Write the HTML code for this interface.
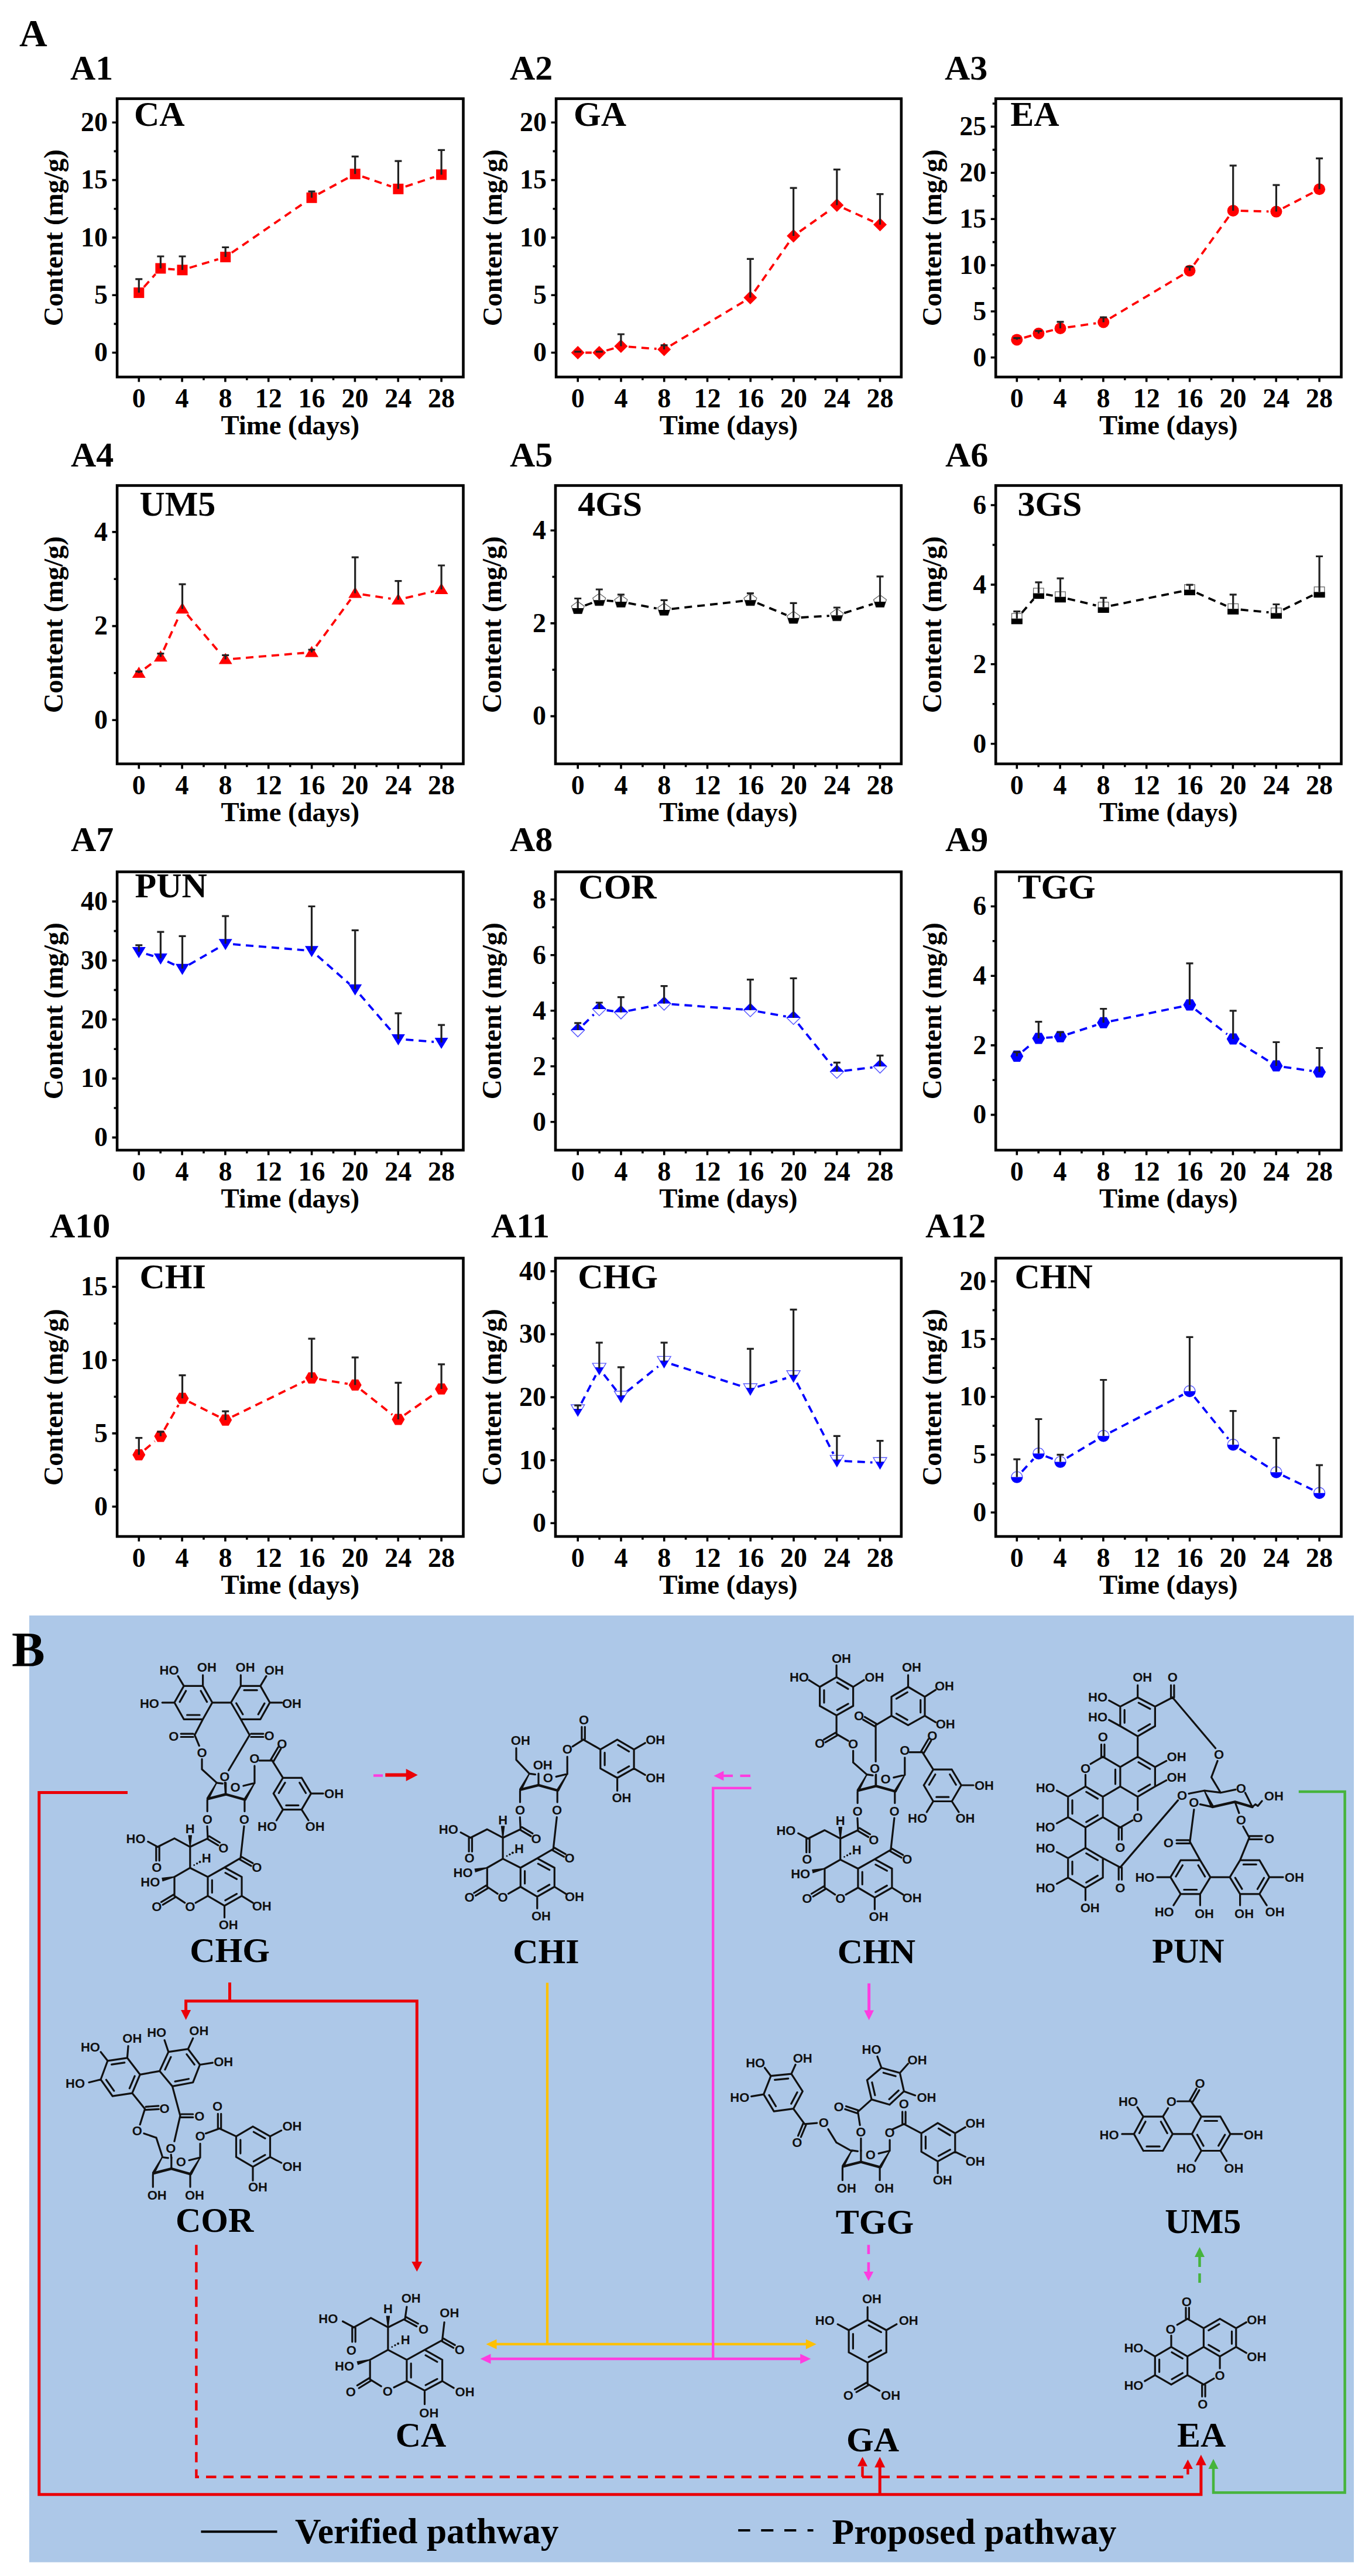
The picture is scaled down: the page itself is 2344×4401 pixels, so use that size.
<!DOCTYPE html>
<html><head><meta charset="utf-8"><title>Figure</title>
<style>
html,body{margin:0;padding:0;background:#fff}
svg{display:block}
text{font-family:"Liberation Serif",serif;font-weight:bold;fill:#000}
.pl{font-size:60px}.tt{font-size:60px}.tk{font-size:46px}.al{font-size:46.7px}
.big{font-size:66px}.bigb{font-size:85px}
.at{font-family:"Liberation Sans",sans-serif;font-weight:bold;font-size:22px;fill:#111}
.cn{font-size:60px}
.lg{font-size:61.5px}
</style></head><body>
<svg width="2344" height="4401" viewBox="0 0 2344 4401">
<rect width="2344" height="4401" fill="#fff"/>
<text class="big" x="33" y="79">A</text>
<g>
<text class="pl" x="120.0" y="136.0">A1</text>
<text class="tt" x="228.9" y="214.8">CA</text>
<rect x="200.1" y="168.6" width="591.4" height="475.5" fill="none" stroke="#000" stroke-width="4.6"/>
<text class="tk" text-anchor="middle" x="237.3" y="696.1">0</text>
<text class="tk" text-anchor="middle" x="311.1" y="696.1">4</text>
<text class="tk" text-anchor="middle" x="384.9" y="696.1">8</text>
<text class="tk" text-anchor="middle" x="458.7" y="696.1">12</text>
<text class="tk" text-anchor="middle" x="532.6" y="696.1">16</text>
<text class="tk" text-anchor="middle" x="606.4" y="696.1">20</text>
<text class="tk" text-anchor="middle" x="680.2" y="696.1">24</text>
<text class="tk" text-anchor="middle" x="754.1" y="696.1">28</text>
<text class="tk" text-anchor="end" x="184.1" y="224.0">20</text>
<text class="tk" text-anchor="end" x="184.1" y="322.4">15</text>
<text class="tk" text-anchor="end" x="184.1" y="420.7">10</text>
<text class="tk" text-anchor="end" x="184.1" y="519.0">5</text>
<text class="tk" text-anchor="end" x="184.1" y="617.3">0</text>
<path d="M237.3,646.1v6.5M274.2,646.1v3.5M311.1,646.1v6.5M348.0,646.1v3.5M384.9,646.1v6.5M421.8,646.1v3.5M458.7,646.1v6.5M495.7,646.1v3.5M532.6,646.1v6.5M569.5,646.1v3.5M606.4,646.1v6.5M643.3,646.1v3.5M680.2,646.1v6.5M717.2,646.1v3.5M754.1,646.1v6.5M198.1,209.2h-6.5M198.1,307.6h-6.5M198.1,405.9h-6.5M198.1,504.2h-6.5M198.1,602.5h-6.5M198.1,258.4h-3.5M198.1,356.7h-3.5M198.1,455.0h-3.5M198.1,553.4h-3.5" stroke="#000" stroke-width="3.6" fill="none"/>
<text class="al" text-anchor="middle" x="495.8" y="742.1">Time (days)</text>
<text class="al" text-anchor="middle" transform="translate(107.1,406.3) rotate(-90)">Content (mg/g)</text>
<path d="M245.9,490.4L265.7,468.2M287.3,459.5L298.5,460.3M323.9,457.5L372.7,442.9M395.9,431.8L521.8,345.1M543.9,331.5L595.3,303.5M619.0,301.6L668.1,318.5M692.7,318.7L741.7,302.5" fill="none" stroke="#ff0000" stroke-width="3.8" stroke-dasharray="13,9"/>
<rect x="228.3" y="491.1" width="18" height="18" fill="#ff0000"/>
<rect x="265.4" y="449.5" width="18" height="18" fill="#ff0000"/>
<rect x="302.5" y="452.3" width="18" height="18" fill="#ff0000"/>
<rect x="376.2" y="430.1" width="18" height="18" fill="#ff0000"/>
<rect x="523.5" y="328.8" width="18" height="18" fill="#ff0000"/>
<rect x="597.7" y="288.3" width="18" height="18" fill="#ff0000"/>
<rect x="671.4" y="313.8" width="18" height="18" fill="#ff0000"/>
<rect x="745.1" y="289.4" width="18" height="18" fill="#ff0000"/>
<path d="M237.3,500.1V476.8M231.3,476.8h12M274.4,458.5V438.0M268.4,438.0h12M311.5,461.3V438.0M305.5,438.0h12M385.2,439.1V422.5M379.2,422.5h12M532.5,337.8V327.2M526.5,327.2h12M606.7,297.3V267.4M600.7,267.4h12M680.4,322.8V275.2M674.4,275.2h12M754.1,298.4V256.3M748.1,256.3h12" stroke="#222" stroke-width="3.2" fill="none"/>
</g>
<g>
<text class="pl" x="871.0" y="136.0">A2</text>
<text class="tt" x="980.0" y="214.8">GA</text>
<rect x="950.1" y="168.6" width="589.7" height="475.5" fill="none" stroke="#000" stroke-width="4.6"/>
<text class="tk" text-anchor="middle" x="987.2" y="696.1">0</text>
<text class="tk" text-anchor="middle" x="1061.0" y="696.1">4</text>
<text class="tk" text-anchor="middle" x="1134.7" y="696.1">8</text>
<text class="tk" text-anchor="middle" x="1208.5" y="696.1">12</text>
<text class="tk" text-anchor="middle" x="1282.2" y="696.1">16</text>
<text class="tk" text-anchor="middle" x="1356.0" y="696.1">20</text>
<text class="tk" text-anchor="middle" x="1429.7" y="696.1">24</text>
<text class="tk" text-anchor="middle" x="1503.5" y="696.1">28</text>
<text class="tk" text-anchor="end" x="934.1" y="224.0">20</text>
<text class="tk" text-anchor="end" x="934.1" y="322.4">15</text>
<text class="tk" text-anchor="end" x="934.1" y="420.7">10</text>
<text class="tk" text-anchor="end" x="934.1" y="519.0">5</text>
<text class="tk" text-anchor="end" x="934.1" y="617.3">0</text>
<path d="M987.2,646.1v6.5M1024.1,646.1v3.5M1061.0,646.1v6.5M1097.9,646.1v3.5M1134.7,646.1v6.5M1171.6,646.1v3.5M1208.5,646.1v6.5M1245.4,646.1v3.5M1282.2,646.1v6.5M1319.1,646.1v3.5M1356.0,646.1v6.5M1392.9,646.1v3.5M1429.7,646.1v6.5M1466.6,646.1v3.5M1503.5,646.1v6.5M948.1,209.2h-6.5M948.1,307.6h-6.5M948.1,405.9h-6.5M948.1,504.2h-6.5M948.1,602.5h-6.5M948.1,258.4h-3.5M948.1,356.7h-3.5M948.1,455.0h-3.5M948.1,553.4h-3.5" stroke="#000" stroke-width="3.6" fill="none"/>
<text class="al" text-anchor="middle" x="1244.9" y="742.1">Time (days)</text>
<text class="al" text-anchor="middle" transform="translate(857.1,406.3) rotate(-90)">Content (mg/g)</text>
<path d="M1000.2,602.5L1010.8,602.5M1036.2,598.8L1048.4,595.2M1073.9,592.4L1121.6,596.0M1145.7,590.3L1270.8,515.1M1289.4,497.7L1348.1,413.8M1366.2,395.6L1419.2,358.0M1441.7,355.8L1491.6,378.4" fill="none" stroke="#ff0000" stroke-width="3.8" stroke-dasharray="13,9"/>
<polygon points="987.2,591.0 998.7,602.5 987.2,614.0 975.7,602.5" fill="#ff0000"/>
<polygon points="1023.8,591.0 1035.3,602.5 1023.8,614.0 1012.3,602.5" fill="#ff0000"/>
<polygon points="1060.9,579.9 1072.4,591.4 1060.9,602.9 1049.4,591.4" fill="#ff0000"/>
<polygon points="1134.6,585.5 1146.1,597.0 1134.6,608.5 1123.1,597.0" fill="#ff0000"/>
<polygon points="1281.9,496.9 1293.4,508.4 1281.9,519.9 1270.4,508.4" fill="#ff0000"/>
<polygon points="1355.6,391.6 1367.1,403.1 1355.6,414.6 1344.1,403.1" fill="#ff0000"/>
<polygon points="1429.8,339.0 1441.3,350.5 1429.8,362.0 1418.3,350.5" fill="#ff0000"/>
<polygon points="1503.5,372.2 1515.0,383.7 1503.5,395.2 1492.0,383.7" fill="#ff0000"/>
<path d="M987.2,602.5V600.9M981.2,600.9h12M1023.8,602.5V600.9M1017.8,600.9h12M1060.9,591.4V571.0M1054.9,571.0h12M1134.6,597.0V589.8M1128.6,589.8h12M1281.9,508.4V442.4M1275.9,442.4h12M1355.6,403.1V321.1M1349.6,321.1h12M1429.8,350.5V289.6M1423.8,289.6h12M1503.5,383.7V331.7M1497.5,331.7h12" stroke="#222" stroke-width="3.2" fill="none"/>
</g>
<g>
<text class="pl" x="1614.0" y="136.0">A3</text>
<text class="tt" x="1726.2" y="214.8">EA</text>
<rect x="1701.2" y="168.6" width="590.3" height="475.5" fill="none" stroke="#000" stroke-width="4.6"/>
<text class="tk" text-anchor="middle" x="1737.3" y="696.1">0</text>
<text class="tk" text-anchor="middle" x="1811.1" y="696.1">4</text>
<text class="tk" text-anchor="middle" x="1884.9" y="696.1">8</text>
<text class="tk" text-anchor="middle" x="1958.7" y="696.1">12</text>
<text class="tk" text-anchor="middle" x="2032.6" y="696.1">16</text>
<text class="tk" text-anchor="middle" x="2106.4" y="696.1">20</text>
<text class="tk" text-anchor="middle" x="2180.2" y="696.1">24</text>
<text class="tk" text-anchor="middle" x="2254.1" y="696.1">28</text>
<text class="tk" text-anchor="end" x="1685.2" y="231.2">25</text>
<text class="tk" text-anchor="end" x="1685.2" y="310.1">20</text>
<text class="tk" text-anchor="end" x="1685.2" y="389.0">15</text>
<text class="tk" text-anchor="end" x="1685.2" y="467.9">10</text>
<text class="tk" text-anchor="end" x="1685.2" y="546.8">5</text>
<text class="tk" text-anchor="end" x="1685.2" y="625.6">0</text>
<path d="M1737.3,646.1v6.5M1774.2,646.1v3.5M1811.1,646.1v6.5M1848.0,646.1v3.5M1884.9,646.1v6.5M1921.8,646.1v3.5M1958.7,646.1v6.5M1995.7,646.1v3.5M2032.6,646.1v6.5M2069.5,646.1v3.5M2106.4,646.1v6.5M2143.3,646.1v3.5M2180.2,646.1v6.5M2217.2,646.1v3.5M2254.1,646.1v6.5M1699.2,216.4h-6.5M1699.2,295.3h-6.5M1699.2,374.2h-6.5M1699.2,453.1h-6.5M1699.2,532.0h-6.5M1699.2,610.8h-6.5M1699.2,177.0h-3.5M1699.2,255.9h-3.5M1699.2,334.8h-3.5M1699.2,413.6h-3.5M1699.2,492.5h-3.5M1699.2,571.4h-3.5" stroke="#000" stroke-width="3.6" fill="none"/>
<text class="al" text-anchor="middle" x="1996.3" y="742.1">Time (days)</text>
<text class="al" text-anchor="middle" transform="translate(1608.2,406.3) rotate(-90)">Content (mg/g)</text>
<path d="M1749.8,576.8L1761.9,573.4M1787.0,566.8L1798.8,564.0M1824.4,559.1L1872.3,552.3M1896.3,543.8L2021.3,469.1M2040.1,451.9L2099.1,370.4M2119.7,360.2L2167.4,361.3M2191.9,355.6L2242.5,329.3" fill="none" stroke="#ff0000" stroke-width="3.8" stroke-dasharray="13,9"/>
<circle cx="1737.3" cy="580.4" r="10" fill="#ff0000"/>
<circle cx="1774.4" cy="569.8" r="10" fill="#ff0000"/>
<circle cx="1811.5" cy="561.0" r="10" fill="#ff0000"/>
<circle cx="1885.2" cy="550.5" r="10" fill="#ff0000"/>
<circle cx="2032.5" cy="462.4" r="10" fill="#ff0000"/>
<circle cx="2106.7" cy="359.9" r="10" fill="#ff0000"/>
<circle cx="2180.4" cy="361.6" r="10" fill="#ff0000"/>
<circle cx="2254.1" cy="323.3" r="10" fill="#ff0000"/>
<path d="M1737.3,580.4V577.6M1731.3,577.6h12M1774.4,569.8V565.4M1768.4,565.4h12M1811.5,561.0V549.9M1805.5,549.9h12M1885.2,550.5V542.1M1879.2,542.1h12M2032.5,462.4V455.7M2026.5,455.7h12M2106.7,359.9V282.9M2100.7,282.9h12M2180.4,361.6V316.1M2174.4,316.1h12M2254.1,323.3V270.7M2248.1,270.7h12" stroke="#222" stroke-width="3.2" fill="none"/>
</g>
<g>
<text class="pl" x="121.0" y="797.0">A4</text>
<text class="tt" x="238.4" y="881.3">UM5</text>
<rect x="200.1" y="829.5" width="591.4" height="475.5" fill="none" stroke="#000" stroke-width="4.6"/>
<text class="tk" text-anchor="middle" x="237.3" y="1357.0">0</text>
<text class="tk" text-anchor="middle" x="311.1" y="1357.0">4</text>
<text class="tk" text-anchor="middle" x="384.9" y="1357.0">8</text>
<text class="tk" text-anchor="middle" x="458.7" y="1357.0">12</text>
<text class="tk" text-anchor="middle" x="532.6" y="1357.0">16</text>
<text class="tk" text-anchor="middle" x="606.4" y="1357.0">20</text>
<text class="tk" text-anchor="middle" x="680.2" y="1357.0">24</text>
<text class="tk" text-anchor="middle" x="754.1" y="1357.0">28</text>
<text class="tk" text-anchor="end" x="184.1" y="923.7">4</text>
<text class="tk" text-anchor="end" x="184.1" y="1084.4">2</text>
<text class="tk" text-anchor="end" x="184.1" y="1245.0">0</text>
<path d="M237.3,1307.0v6.5M274.2,1307.0v3.5M311.1,1307.0v6.5M348.0,1307.0v3.5M384.9,1307.0v6.5M421.8,1307.0v3.5M458.7,1307.0v6.5M495.7,1307.0v3.5M532.6,1307.0v6.5M569.5,1307.0v3.5M606.4,1307.0v6.5M643.3,1307.0v3.5M680.2,1307.0v6.5M717.2,1307.0v3.5M754.1,1307.0v6.5M198.1,908.9h-6.5M198.1,1069.6h-6.5M198.1,1230.2h-6.5M198.1,989.3h-3.5M198.1,1149.9h-3.5" stroke="#000" stroke-width="3.6" fill="none"/>
<text class="al" text-anchor="middle" x="495.8" y="1403.0">Time (days)</text>
<text class="al" text-anchor="middle" transform="translate(107.1,1067.3) rotate(-90)">Content (mg/g)</text>
<path d="M247.7,1142.1L264.0,1130.0M279.7,1110.4L306.1,1052.1M319.9,1050.1L376.7,1116.7M398.1,1125.6L519.5,1115.5M540.2,1104.0L599.0,1024.1M619.6,1015.6L667.5,1022.8M693.0,1021.7L741.4,1010.0" fill="none" stroke="#ff0000" stroke-width="3.8" stroke-dasharray="13,9"/>
<polygon points="237.3,1138.9 248.8,1157.9 225.8,1157.9" fill="#ff0000"/>
<polygon points="274.4,1111.2 285.9,1130.2 262.9,1130.2" fill="#ff0000"/>
<polygon points="311.5,1029.2 323.0,1048.2 300.0,1048.2" fill="#ff0000"/>
<polygon points="385.2,1115.6 396.7,1134.6 373.7,1134.6" fill="#ff0000"/>
<polygon points="532.5,1103.5 544.0,1122.5 521.0,1122.5" fill="#ff0000"/>
<polygon points="606.7,1002.6 618.2,1021.6 595.2,1021.6" fill="#ff0000"/>
<polygon points="680.4,1013.7 691.9,1032.7 668.9,1032.7" fill="#ff0000"/>
<polygon points="754.1,996.0 765.6,1015.0 742.6,1015.0" fill="#ff0000"/>
<path d="M237.3,1149.9V1147.1M231.3,1147.1h12M274.4,1122.2V1116.7M268.4,1116.7h12M311.5,1040.2V998.1M305.5,998.1h12M385.2,1126.6V1119.4M379.2,1119.4h12M532.5,1114.5V1110.0M526.5,1110.0h12M606.7,1013.6V952.2M600.7,952.2h12M680.4,1024.7V992.6M674.4,992.6h12M754.1,1007.0V966.0M748.1,966.0h12" stroke="#222" stroke-width="3.2" fill="none"/>
</g>
<g>
<text class="pl" x="871.0" y="797.0">A5</text>
<text class="tt" x="987.2" y="881.3">4GS</text>
<rect x="949.0" y="829.5" width="590.8" height="475.5" fill="none" stroke="#000" stroke-width="4.6"/>
<text class="tk" text-anchor="middle" x="987.2" y="1357.0">0</text>
<text class="tk" text-anchor="middle" x="1061.0" y="1357.0">4</text>
<text class="tk" text-anchor="middle" x="1134.7" y="1357.0">8</text>
<text class="tk" text-anchor="middle" x="1208.5" y="1357.0">12</text>
<text class="tk" text-anchor="middle" x="1282.2" y="1357.0">16</text>
<text class="tk" text-anchor="middle" x="1356.0" y="1357.0">20</text>
<text class="tk" text-anchor="middle" x="1429.7" y="1357.0">24</text>
<text class="tk" text-anchor="middle" x="1503.5" y="1357.0">28</text>
<text class="tk" text-anchor="end" x="933.0" y="921.0">4</text>
<text class="tk" text-anchor="end" x="933.0" y="1079.7">2</text>
<text class="tk" text-anchor="end" x="933.0" y="1238.4">0</text>
<path d="M987.2,1307.0v6.5M1024.1,1307.0v3.5M1061.0,1307.0v6.5M1097.9,1307.0v3.5M1134.7,1307.0v6.5M1171.6,1307.0v3.5M1208.5,1307.0v6.5M1245.4,1307.0v3.5M1282.2,1307.0v6.5M1319.1,1307.0v3.5M1356.0,1307.0v6.5M1392.9,1307.0v3.5M1429.7,1307.0v6.5M1466.6,1307.0v3.5M1503.5,1307.0v6.5M947.0,906.2h-6.5M947.0,1064.9h-6.5M947.0,1223.6h-6.5M947.0,985.5h-3.5M947.0,1144.2h-3.5" stroke="#000" stroke-width="3.6" fill="none"/>
<text class="al" text-anchor="middle" x="1244.4" y="1403.0">Time (days)</text>
<text class="al" text-anchor="middle" transform="translate(856.0,1067.3) rotate(-90)">Content (mg/g)</text>
<path d="M999.4,1034.5L1011.6,1029.9M1036.7,1026.2L1047.9,1027.1M1073.7,1030.4L1121.8,1039.5M1147.5,1040.4L1269.0,1026.7M1293.9,1030.2L1343.6,1050.8M1368.6,1055.0L1416.8,1052.1M1442.2,1047.4L1491.1,1032.0" fill="none" stroke="#000000" stroke-width="3.8" stroke-dasharray="13,9"/>
<polygon points="987.2,1027.6 998.2,1035.6 994.0,1048.4 980.5,1048.4 976.3,1035.6" fill="#fff" stroke="#666" stroke-width="1.3"/><clipPath id="c987_1039"><rect x="972.2" y="1039.1" width="30" height="15"/></clipPath><polygon points="987.2,1027.6 998.2,1035.6 994.0,1048.4 980.5,1048.4 976.3,1035.6" fill="#000000" clip-path="url(#c987_1039)"/>
<polygon points="1023.8,1013.8 1034.7,1021.7 1030.5,1034.6 1017.0,1034.6 1012.8,1021.7" fill="#fff" stroke="#666" stroke-width="1.3"/><clipPath id="c1023_1025"><rect x="1008.8" y="1025.3" width="30" height="15"/></clipPath><polygon points="1023.8,1013.8 1034.7,1021.7 1030.5,1034.6 1017.0,1034.6 1012.8,1021.7" fill="#000000" clip-path="url(#c1023_1025)"/>
<polygon points="1060.9,1016.5 1071.8,1024.5 1067.7,1037.3 1054.1,1037.3 1050.0,1024.5" fill="#fff" stroke="#666" stroke-width="1.3"/><clipPath id="c1060_1028"><rect x="1045.9" y="1028.0" width="30" height="15"/></clipPath><polygon points="1060.9,1016.5 1071.8,1024.5 1067.7,1037.3 1054.1,1037.3 1050.0,1024.5" fill="#000000" clip-path="url(#c1060_1028)"/>
<polygon points="1134.6,1030.4 1145.5,1038.3 1141.3,1051.2 1127.8,1051.2 1123.6,1038.3" fill="#fff" stroke="#666" stroke-width="1.3"/><clipPath id="c1134_1041"><rect x="1119.6" y="1041.9" width="30" height="15"/></clipPath><polygon points="1134.6,1030.4 1145.5,1038.3 1141.3,1051.2 1127.8,1051.2 1123.6,1038.3" fill="#000000" clip-path="url(#c1134_1041)"/>
<polygon points="1281.9,1013.8 1292.9,1021.7 1288.7,1034.6 1275.2,1034.6 1271.0,1021.7" fill="#fff" stroke="#666" stroke-width="1.3"/><clipPath id="c1281_1025"><rect x="1266.9" y="1025.3" width="30" height="15"/></clipPath><polygon points="1281.9,1013.8 1292.9,1021.7 1288.7,1034.6 1275.2,1034.6 1271.0,1021.7" fill="#000000" clip-path="url(#c1281_1025)"/>
<polygon points="1355.6,1044.2 1366.5,1052.2 1362.3,1065.0 1348.8,1065.0 1344.6,1052.2" fill="#fff" stroke="#666" stroke-width="1.3"/><clipPath id="c1355_1055"><rect x="1340.6" y="1055.7" width="30" height="15"/></clipPath><polygon points="1355.6,1044.2 1366.5,1052.2 1362.3,1065.0 1348.8,1065.0 1344.6,1052.2" fill="#000000" clip-path="url(#c1355_1055)"/>
<polygon points="1429.8,1039.8 1440.7,1047.8 1436.6,1060.6 1423.1,1060.6 1418.9,1047.8" fill="#fff" stroke="#666" stroke-width="1.3"/><clipPath id="c1429_1051"><rect x="1414.8" y="1051.3" width="30" height="15"/></clipPath><polygon points="1429.8,1039.8 1440.7,1047.8 1436.6,1060.6 1423.1,1060.6 1418.9,1047.8" fill="#000000" clip-path="url(#c1429_1051)"/>
<polygon points="1503.5,1016.5 1514.4,1024.5 1510.2,1037.3 1496.7,1037.3 1492.5,1024.5" fill="#fff" stroke="#666" stroke-width="1.3"/><clipPath id="c1503_1028"><rect x="1488.5" y="1028.0" width="30" height="15"/></clipPath><polygon points="1503.5,1016.5 1514.4,1024.5 1510.2,1037.3 1496.7,1037.3 1492.5,1024.5" fill="#000000" clip-path="url(#c1503_1028)"/>
<path d="M987.2,1039.1V1022.5M981.2,1022.5h12M1023.8,1025.3V1007.0M1017.8,1007.0h12M1060.9,1028.0V1015.9M1054.9,1015.9h12M1134.6,1041.9V1025.3M1128.6,1025.3h12M1281.9,1025.3V1013.6M1275.9,1013.6h12M1355.6,1055.7V1030.3M1349.6,1030.3h12M1429.8,1051.3V1038.0M1423.8,1038.0h12M1503.5,1028.0V984.8M1497.5,984.8h12" stroke="#222" stroke-width="3.2" fill="none"/>
</g>
<g>
<text class="pl" x="1615.0" y="797.0">A6</text>
<text class="tt" x="1738.4" y="881.3">3GS</text>
<rect x="1701.2" y="829.5" width="590.3" height="475.5" fill="none" stroke="#000" stroke-width="4.6"/>
<text class="tk" text-anchor="middle" x="1737.3" y="1357.0">0</text>
<text class="tk" text-anchor="middle" x="1811.1" y="1357.0">4</text>
<text class="tk" text-anchor="middle" x="1884.9" y="1357.0">8</text>
<text class="tk" text-anchor="middle" x="1958.7" y="1357.0">12</text>
<text class="tk" text-anchor="middle" x="2032.6" y="1357.0">16</text>
<text class="tk" text-anchor="middle" x="2106.4" y="1357.0">20</text>
<text class="tk" text-anchor="middle" x="2180.2" y="1357.0">24</text>
<text class="tk" text-anchor="middle" x="2254.1" y="1357.0">28</text>
<text class="tk" text-anchor="end" x="1685.2" y="877.8">6</text>
<text class="tk" text-anchor="end" x="1685.2" y="1013.7">4</text>
<text class="tk" text-anchor="end" x="1685.2" y="1149.6">2</text>
<text class="tk" text-anchor="end" x="1685.2" y="1285.5">0</text>
<path d="M1737.3,1307.0v6.5M1774.2,1307.0v3.5M1811.1,1307.0v6.5M1848.0,1307.0v3.5M1884.9,1307.0v6.5M1921.8,1307.0v3.5M1958.7,1307.0v6.5M1995.7,1307.0v3.5M2032.6,1307.0v6.5M2069.5,1307.0v3.5M2106.4,1307.0v6.5M2143.3,1307.0v3.5M2180.2,1307.0v6.5M2217.2,1307.0v3.5M2254.1,1307.0v6.5M1699.2,863.0h-6.5M1699.2,998.9h-6.5M1699.2,1134.8h-6.5M1699.2,1270.7h-6.5M1699.2,930.9h-3.5M1699.2,1066.8h-3.5M1699.2,1202.7h-3.5" stroke="#000" stroke-width="3.6" fill="none"/>
<text class="al" text-anchor="middle" x="1996.3" y="1403.0">Time (days)</text>
<text class="al" text-anchor="middle" transform="translate(1608.2,1067.3) rotate(-90)">Content (mg/g)</text>
<path d="M1745.7,1047.0L1765.9,1023.5M1787.2,1015.7L1798.7,1017.6M1824.1,1022.8L1872.5,1034.4M1897.9,1034.9L2019.8,1010.1M2044.4,1012.8L2094.8,1035.0M2119.7,1041.5L2167.5,1046.2M2192.1,1041.7L2242.4,1017.1" fill="none" stroke="#000000" stroke-width="3.8" stroke-dasharray="13,9"/>
<rect x="1728.5" y="1048.1" width="17.5" height="17.5" fill="#fff" stroke="#666" stroke-width="1.3"/><rect x="1727.8" y="1056.8" width="19" height="9.5" fill="#000000"/>
<rect x="1765.6" y="1004.9" width="17.5" height="17.5" fill="#fff" stroke="#666" stroke-width="1.3"/><rect x="1764.9" y="1013.6" width="19" height="9.5" fill="#000000"/>
<rect x="1802.7" y="1011.0" width="17.5" height="17.5" fill="#fff" stroke="#666" stroke-width="1.3"/><rect x="1802.0" y="1019.7" width="19" height="9.5" fill="#000000"/>
<rect x="1876.4" y="1028.7" width="17.5" height="17.5" fill="#fff" stroke="#666" stroke-width="1.3"/><rect x="1875.7" y="1037.5" width="19" height="9.5" fill="#000000"/>
<rect x="2023.7" y="998.8" width="17.5" height="17.5" fill="#fff" stroke="#666" stroke-width="1.3"/><rect x="2023.0" y="1007.5" width="19" height="9.5" fill="#000000"/>
<rect x="2098.0" y="1031.5" width="17.5" height="17.5" fill="#fff" stroke="#666" stroke-width="1.3"/><rect x="2097.2" y="1040.2" width="19" height="9.5" fill="#000000"/>
<rect x="2171.6" y="1038.7" width="17.5" height="17.5" fill="#fff" stroke="#666" stroke-width="1.3"/><rect x="2170.9" y="1047.4" width="19" height="9.5" fill="#000000"/>
<rect x="2245.3" y="1002.7" width="17.5" height="17.5" fill="#fff" stroke="#666" stroke-width="1.3"/><rect x="2244.6" y="1011.4" width="19" height="9.5" fill="#000000"/>
<path d="M1737.3,1056.8V1044.7M1731.3,1044.7h12M1774.4,1013.6V994.8M1768.4,994.8h12M1811.5,1019.7V988.2M1805.5,988.2h12M1885.2,1037.5V1021.4M1879.2,1021.4h12M2032.5,1007.5V999.2M2026.5,999.2h12M2106.7,1040.2V1015.9M2100.7,1015.9h12M2180.4,1047.4V1032.5M2174.4,1032.5h12M2254.1,1011.4V950.5M2248.1,950.5h12" stroke="#222" stroke-width="3.2" fill="none"/>
</g>
<g>
<text class="pl" x="121.0" y="1454.0">A7</text>
<text class="tt" x="230.6" y="1532.9">PUN</text>
<rect x="200.1" y="1489.5" width="591.4" height="475.5" fill="none" stroke="#000" stroke-width="4.6"/>
<text class="tk" text-anchor="middle" x="237.3" y="2017.0">0</text>
<text class="tk" text-anchor="middle" x="311.1" y="2017.0">4</text>
<text class="tk" text-anchor="middle" x="384.9" y="2017.0">8</text>
<text class="tk" text-anchor="middle" x="458.7" y="2017.0">12</text>
<text class="tk" text-anchor="middle" x="532.6" y="2017.0">16</text>
<text class="tk" text-anchor="middle" x="606.4" y="2017.0">20</text>
<text class="tk" text-anchor="middle" x="680.2" y="2017.0">24</text>
<text class="tk" text-anchor="middle" x="754.1" y="2017.0">28</text>
<text class="tk" text-anchor="end" x="184.1" y="1554.9">40</text>
<text class="tk" text-anchor="end" x="184.1" y="1655.8">30</text>
<text class="tk" text-anchor="end" x="184.1" y="1756.6">20</text>
<text class="tk" text-anchor="end" x="184.1" y="1857.4">10</text>
<text class="tk" text-anchor="end" x="184.1" y="1958.2">0</text>
<path d="M237.3,1967.0v6.5M274.2,1967.0v3.5M311.1,1967.0v6.5M348.0,1967.0v3.5M384.9,1967.0v6.5M421.8,1967.0v3.5M458.7,1967.0v6.5M495.7,1967.0v3.5M532.6,1967.0v6.5M569.5,1967.0v3.5M606.4,1967.0v6.5M643.3,1967.0v3.5M680.2,1967.0v6.5M717.2,1967.0v3.5M754.1,1967.0v6.5M198.1,1540.1h-6.5M198.1,1641.0h-6.5M198.1,1741.8h-6.5M198.1,1842.6h-6.5M198.1,1943.4h-6.5M198.1,1590.6h-3.5M198.1,1691.4h-3.5M198.1,1792.2h-3.5M198.1,1893.0h-3.5" stroke="#000" stroke-width="3.6" fill="none"/>
<text class="al" text-anchor="middle" x="495.8" y="2063.0">Time (days)</text>
<text class="al" text-anchor="middle" transform="translate(107.1,1727.3) rotate(-90)">Content (mg/g)</text>
<path d="M249.7,1629.7L261.9,1633.4M286.1,1642.7L299.8,1649.2M322.7,1648.3L373.9,1618.7M398.1,1613.2L519.5,1623.3M542.3,1632.9L597.0,1681.1M615.2,1699.5L671.9,1765.2M693.4,1776.1L741.1,1780.0" fill="none" stroke="#0000ff" stroke-width="3.8" stroke-dasharray="13,9"/>
<polygon points="237.3,1637.0 248.8,1618.0 225.8,1618.0" fill="#0000ff"/>
<polygon points="274.4,1648.1 285.9,1629.1 262.9,1629.1" fill="#0000ff"/>
<polygon points="311.5,1665.8 323.0,1646.8 300.0,1646.8" fill="#0000ff"/>
<polygon points="385.2,1623.2 396.7,1604.2 373.7,1604.2" fill="#0000ff"/>
<polygon points="532.5,1635.3 544.0,1616.3 521.0,1616.3" fill="#0000ff"/>
<polygon points="606.7,1700.7 618.2,1681.7 595.2,1681.7" fill="#0000ff"/>
<polygon points="680.4,1786.0 691.9,1767.0 668.9,1767.0" fill="#0000ff"/>
<polygon points="754.1,1792.1 765.6,1773.1 742.6,1773.1" fill="#0000ff"/>
<path d="M237.3,1626.0V1614.9M231.3,1614.9h12M274.4,1637.1V1592.2M268.4,1592.2h12M311.5,1654.8V1599.4M305.5,1599.4h12M385.2,1612.2V1565.1M379.2,1565.1h12M532.5,1624.3V1548.5M526.5,1548.5h12M606.7,1689.7V1589.4M600.7,1589.4h12M680.4,1775.0V1731.2M674.4,1731.2h12M754.1,1781.1V1751.2M748.1,1751.2h12" stroke="#222" stroke-width="3.2" fill="none"/>
</g>
<g>
<text class="pl" x="871.0" y="1454.0">A8</text>
<text class="tt" x="988.3" y="1534.6">COR</text>
<rect x="949.0" y="1489.5" width="590.8" height="475.5" fill="none" stroke="#000" stroke-width="4.6"/>
<text class="tk" text-anchor="middle" x="987.2" y="2017.0">0</text>
<text class="tk" text-anchor="middle" x="1061.0" y="2017.0">4</text>
<text class="tk" text-anchor="middle" x="1134.7" y="2017.0">8</text>
<text class="tk" text-anchor="middle" x="1208.5" y="2017.0">12</text>
<text class="tk" text-anchor="middle" x="1282.2" y="2017.0">16</text>
<text class="tk" text-anchor="middle" x="1356.0" y="2017.0">20</text>
<text class="tk" text-anchor="middle" x="1429.7" y="2017.0">24</text>
<text class="tk" text-anchor="middle" x="1503.5" y="2017.0">28</text>
<text class="tk" text-anchor="end" x="933.0" y="1551.6">8</text>
<text class="tk" text-anchor="end" x="933.0" y="1646.6">6</text>
<text class="tk" text-anchor="end" x="933.0" y="1741.6">4</text>
<text class="tk" text-anchor="end" x="933.0" y="1836.6">2</text>
<text class="tk" text-anchor="end" x="933.0" y="1931.6">0</text>
<path d="M987.2,1967.0v6.5M1024.1,1967.0v3.5M1061.0,1967.0v6.5M1097.9,1967.0v3.5M1134.7,1967.0v6.5M1171.6,1967.0v3.5M1208.5,1967.0v6.5M1245.4,1967.0v3.5M1282.2,1967.0v6.5M1319.1,1967.0v3.5M1356.0,1967.0v6.5M1392.9,1967.0v3.5M1429.7,1967.0v6.5M1466.6,1967.0v3.5M1503.5,1967.0v6.5M947.0,1536.8h-6.5M947.0,1631.8h-6.5M947.0,1726.8h-6.5M947.0,1821.8h-6.5M947.0,1916.8h-6.5M947.0,1584.3h-3.5M947.0,1679.3h-3.5M947.0,1774.3h-3.5M947.0,1869.3h-3.5" stroke="#000" stroke-width="3.6" fill="none"/>
<text class="al" text-anchor="middle" x="1244.4" y="2063.0">Time (days)</text>
<text class="al" text-anchor="middle" transform="translate(856.0,1727.3) rotate(-90)">Content (mg/g)</text>
<path d="M996.5,1750.9L1014.5,1733.2M1036.6,1726.0L1048.0,1727.7M1073.6,1727.0L1121.8,1717.2M1147.5,1715.6L1269.0,1724.7M1294.7,1728.0L1342.8,1736.7M1363.8,1749.1L1421.6,1820.8M1442.7,1829.4L1490.6,1823.6" fill="none" stroke="#0000ff" stroke-width="3.8" stroke-dasharray="13,9"/>
<polygon points="987.2,1748.8 998.5,1760.1 987.2,1771.4 975.9,1760.1" fill="#fff" stroke="#5a5aff" stroke-width="1.5"/><polygon points="975.2,1760.1 987.2,1748.1 999.2,1760.1" fill="#0000ff"/>
<polygon points="1023.8,1712.7 1035.1,1724.0 1023.8,1735.3 1012.5,1724.0" fill="#fff" stroke="#5a5aff" stroke-width="1.5"/><polygon points="1011.8,1724.0 1023.8,1712.0 1035.8,1724.0" fill="#0000ff"/>
<polygon points="1060.9,1718.3 1072.2,1729.6 1060.9,1740.9 1049.6,1729.6" fill="#fff" stroke="#5a5aff" stroke-width="1.5"/><polygon points="1048.9,1729.6 1060.9,1717.6 1072.9,1729.6" fill="#0000ff"/>
<polygon points="1134.6,1703.3 1145.9,1714.6 1134.6,1725.9 1123.3,1714.6" fill="#fff" stroke="#5a5aff" stroke-width="1.5"/><polygon points="1122.6,1714.6 1134.6,1702.6 1146.6,1714.6" fill="#0000ff"/>
<polygon points="1281.9,1714.4 1293.2,1725.7 1281.9,1737.0 1270.6,1725.7" fill="#fff" stroke="#5a5aff" stroke-width="1.5"/><polygon points="1269.9,1725.7 1281.9,1713.7 1293.9,1725.7" fill="#0000ff"/>
<polygon points="1355.6,1727.7 1366.9,1739.0 1355.6,1750.3 1344.3,1739.0" fill="#fff" stroke="#5a5aff" stroke-width="1.5"/><polygon points="1343.6,1739.0 1355.6,1727.0 1367.6,1739.0" fill="#0000ff"/>
<polygon points="1429.8,1819.7 1441.1,1831.0 1429.8,1842.3 1418.5,1831.0" fill="#fff" stroke="#5a5aff" stroke-width="1.5"/><polygon points="1417.8,1831.0 1429.8,1819.0 1441.8,1831.0" fill="#0000ff"/>
<polygon points="1503.5,1810.8 1514.8,1822.1 1503.5,1833.4 1492.2,1822.1" fill="#fff" stroke="#5a5aff" stroke-width="1.5"/><polygon points="1491.5,1822.1 1503.5,1810.1 1515.5,1822.1" fill="#0000ff"/>
<path d="M987.2,1760.1V1747.9M981.2,1747.9h12M1023.8,1724.0V1713.0M1017.8,1713.0h12M1060.9,1729.6V1703.6M1054.9,1703.6h12M1134.6,1714.6V1684.7M1128.6,1684.7h12M1281.9,1725.7V1673.6M1275.9,1673.6h12M1355.6,1739.0V1671.4M1349.6,1671.4h12M1429.8,1831.0V1815.4M1423.8,1815.4h12M1503.5,1822.1V1803.3M1497.5,1803.3h12" stroke="#222" stroke-width="3.2" fill="none"/>
</g>
<g>
<text class="pl" x="1615.0" y="1454.0">A9</text>
<text class="tt" x="1738.4" y="1534.6">TGG</text>
<rect x="1701.2" y="1489.5" width="590.3" height="475.5" fill="none" stroke="#000" stroke-width="4.6"/>
<text class="tk" text-anchor="middle" x="1737.3" y="2017.0">0</text>
<text class="tk" text-anchor="middle" x="1811.1" y="2017.0">4</text>
<text class="tk" text-anchor="middle" x="1884.9" y="2017.0">8</text>
<text class="tk" text-anchor="middle" x="1958.7" y="2017.0">12</text>
<text class="tk" text-anchor="middle" x="2032.6" y="2017.0">16</text>
<text class="tk" text-anchor="middle" x="2106.4" y="2017.0">20</text>
<text class="tk" text-anchor="middle" x="2180.2" y="2017.0">24</text>
<text class="tk" text-anchor="middle" x="2254.1" y="2017.0">28</text>
<text class="tk" text-anchor="end" x="1685.2" y="1563.3">6</text>
<text class="tk" text-anchor="end" x="1685.2" y="1682.0">4</text>
<text class="tk" text-anchor="end" x="1685.2" y="1800.7">2</text>
<text class="tk" text-anchor="end" x="1685.2" y="1919.4">0</text>
<path d="M1737.3,1967.0v6.5M1774.2,1967.0v3.5M1811.1,1967.0v6.5M1848.0,1967.0v3.5M1884.9,1967.0v6.5M1921.8,1967.0v3.5M1958.7,1967.0v6.5M1995.7,1967.0v3.5M2032.6,1967.0v6.5M2069.5,1967.0v3.5M2106.4,1967.0v6.5M2143.3,1967.0v3.5M2180.2,1967.0v6.5M2217.2,1967.0v3.5M2254.1,1967.0v6.5M1699.2,1548.5h-6.5M1699.2,1667.2h-6.5M1699.2,1785.9h-6.5M1699.2,1904.6h-6.5M1699.2,1607.8h-3.5M1699.2,1726.5h-3.5M1699.2,1845.3h-3.5" stroke="#000" stroke-width="3.6" fill="none"/>
<text class="al" text-anchor="middle" x="1996.3" y="2063.0">Time (days)</text>
<text class="al" text-anchor="middle" transform="translate(1608.2,1727.3) rotate(-90)">Content (mg/g)</text>
<path d="M1747.3,1796.1L1764.3,1782.1M1787.3,1772.9L1798.5,1772.1M1823.9,1767.1L1872.8,1751.3M1897.9,1744.7L2019.8,1719.5M2042.7,1724.9L2096.5,1767.0M2117.8,1781.9L2169.4,1814.1M2193.3,1822.8L2241.2,1829.7" fill="none" stroke="#0000ff" stroke-width="3.8" stroke-dasharray="13,9"/>
<polygon points="1742.8,1794.8 1748.3,1804.4 1742.8,1813.9 1731.8,1813.9 1726.3,1804.4 1731.8,1794.8" fill="#0000ff"/>
<polygon points="1779.9,1764.4 1785.4,1773.9 1779.9,1783.4 1768.9,1783.4 1763.4,1773.9 1768.9,1764.4" fill="#0000ff"/>
<polygon points="1817.0,1761.6 1822.5,1771.1 1817.0,1780.7 1806.0,1780.7 1800.5,1771.1 1806.0,1761.6" fill="#0000ff"/>
<polygon points="1890.7,1737.8 1896.2,1747.3 1890.7,1756.8 1879.7,1756.8 1874.2,1747.3 1879.7,1737.8" fill="#0000ff"/>
<polygon points="2038.0,1707.3 2043.5,1716.8 2038.0,1726.4 2027.0,1726.4 2021.5,1716.8 2027.0,1707.3" fill="#0000ff"/>
<polygon points="2112.2,1765.5 2117.7,1775.0 2112.2,1784.5 2101.2,1784.5 2095.7,1775.0 2101.2,1765.5" fill="#0000ff"/>
<polygon points="2185.9,1811.5 2191.4,1821.0 2185.9,1830.5 2174.9,1830.5 2169.4,1821.0 2174.9,1811.5" fill="#0000ff"/>
<polygon points="2259.6,1822.0 2265.1,1831.5 2259.6,1841.0 2248.6,1841.0 2243.1,1831.5 2248.6,1822.0" fill="#0000ff"/>
<path d="M1737.3,1804.4V1797.7M1731.3,1797.7h12M1774.4,1773.9V1745.6M1768.4,1745.6h12M1811.5,1771.1V1763.4M1805.5,1763.4h12M1885.2,1747.3V1723.5M1879.2,1723.5h12M2032.5,1716.8V1645.9M2026.5,1645.9h12M2106.7,1775.0V1726.8M2100.7,1726.8h12M2180.4,1821.0V1780.5M2174.4,1780.5h12M2254.1,1831.5V1790.5M2248.1,1790.5h12" stroke="#222" stroke-width="3.2" fill="none"/>
</g>
<g>
<text class="pl" x="85.0" y="2114.0">A10</text>
<text class="tt" x="238.4" y="2201.3">CHI</text>
<rect x="200.1" y="2149.5" width="591.4" height="475.5" fill="none" stroke="#000" stroke-width="4.6"/>
<text class="tk" text-anchor="middle" x="237.3" y="2677.0">0</text>
<text class="tk" text-anchor="middle" x="311.1" y="2677.0">4</text>
<text class="tk" text-anchor="middle" x="384.9" y="2677.0">8</text>
<text class="tk" text-anchor="middle" x="458.7" y="2677.0">12</text>
<text class="tk" text-anchor="middle" x="532.6" y="2677.0">16</text>
<text class="tk" text-anchor="middle" x="606.4" y="2677.0">20</text>
<text class="tk" text-anchor="middle" x="680.2" y="2677.0">24</text>
<text class="tk" text-anchor="middle" x="754.1" y="2677.0">28</text>
<text class="tk" text-anchor="end" x="184.1" y="2213.3">15</text>
<text class="tk" text-anchor="end" x="184.1" y="2338.5">10</text>
<text class="tk" text-anchor="end" x="184.1" y="2463.7">5</text>
<text class="tk" text-anchor="end" x="184.1" y="2588.8">0</text>
<path d="M237.3,2627.0v6.5M274.2,2627.0v3.5M311.1,2627.0v6.5M348.0,2627.0v3.5M384.9,2627.0v6.5M421.8,2627.0v3.5M458.7,2627.0v6.5M495.7,2627.0v3.5M532.6,2627.0v6.5M569.5,2627.0v3.5M606.4,2627.0v6.5M643.3,2627.0v3.5M680.2,2627.0v6.5M717.2,2627.0v3.5M754.1,2627.0v6.5M198.1,2198.5h-6.5M198.1,2323.7h-6.5M198.1,2448.9h-6.5M198.1,2574.0h-6.5M198.1,2261.1h-3.5M198.1,2386.3h-3.5M198.1,2511.4h-3.5" stroke="#000" stroke-width="3.6" fill="none"/>
<text class="al" text-anchor="middle" x="495.8" y="2723.0">Time (days)</text>
<text class="al" text-anchor="middle" transform="translate(107.1,2387.3) rotate(-90)">Content (mg/g)</text>
<path d="M247.2,2477.0L264.5,2462.3M280.8,2442.6L305.0,2400.3M323.1,2394.9L373.5,2420.3M396.8,2420.4L520.8,2359.8M545.3,2356.2L593.9,2364.2M616.9,2374.4L670.2,2416.9M691.0,2417.5L743.5,2380.5" fill="none" stroke="#ff0000" stroke-width="3.8" stroke-dasharray="13,9"/>
<polygon points="242.8,2475.9 248.3,2485.4 242.8,2494.9 231.8,2494.9 226.3,2485.4 231.8,2475.9" fill="#ff0000"/>
<polygon points="279.9,2444.3 285.4,2453.8 279.9,2463.4 268.9,2463.4 263.4,2453.8 268.9,2444.3" fill="#ff0000"/>
<polygon points="317.0,2379.5 322.5,2389.0 317.0,2398.6 306.0,2398.6 300.5,2389.0 306.0,2379.5" fill="#ff0000"/>
<polygon points="390.7,2416.6 396.2,2426.1 390.7,2435.7 379.7,2435.7 374.2,2426.1 379.7,2416.6" fill="#ff0000"/>
<polygon points="538.0,2344.6 543.5,2354.1 538.0,2363.7 527.0,2363.7 521.5,2354.1 527.0,2344.6" fill="#ff0000"/>
<polygon points="612.2,2356.8 617.7,2366.3 612.2,2375.8 601.2,2375.8 595.7,2366.3 601.2,2356.8" fill="#ff0000"/>
<polygon points="685.9,2415.5 691.4,2425.0 685.9,2434.6 674.9,2434.6 669.4,2425.0 674.9,2415.5" fill="#ff0000"/>
<polygon points="759.6,2363.4 765.1,2373.0 759.6,2382.5 748.6,2382.5 743.1,2373.0 748.6,2363.4" fill="#ff0000"/>
<path d="M237.3,2485.4V2456.6M231.3,2456.6h12M274.4,2453.8V2446.1M268.4,2446.1h12M311.5,2389.0V2349.7M305.5,2349.7h12M385.2,2426.1V2411.2M379.2,2411.2h12M532.5,2354.1V2287.1M526.5,2287.1h12M606.7,2366.3V2319.2M600.7,2319.2h12M680.4,2425.0V2362.4M674.4,2362.4h12M754.1,2373.0V2330.9M748.1,2330.9h12" stroke="#222" stroke-width="3.2" fill="none"/>
</g>
<g>
<text class="pl" x="839.0" y="2114.0">A11</text>
<text class="tt" x="987.2" y="2201.3">CHG</text>
<rect x="949.0" y="2149.5" width="590.8" height="475.5" fill="none" stroke="#000" stroke-width="4.6"/>
<text class="tk" text-anchor="middle" x="987.2" y="2677.0">0</text>
<text class="tk" text-anchor="middle" x="1061.0" y="2677.0">4</text>
<text class="tk" text-anchor="middle" x="1134.7" y="2677.0">8</text>
<text class="tk" text-anchor="middle" x="1208.5" y="2677.0">12</text>
<text class="tk" text-anchor="middle" x="1282.2" y="2677.0">16</text>
<text class="tk" text-anchor="middle" x="1356.0" y="2677.0">20</text>
<text class="tk" text-anchor="middle" x="1429.7" y="2677.0">24</text>
<text class="tk" text-anchor="middle" x="1503.5" y="2677.0">28</text>
<text class="tk" text-anchor="end" x="933.0" y="2186.7">40</text>
<text class="tk" text-anchor="end" x="933.0" y="2294.3">30</text>
<text class="tk" text-anchor="end" x="933.0" y="2401.9">20</text>
<text class="tk" text-anchor="end" x="933.0" y="2509.5">10</text>
<text class="tk" text-anchor="end" x="933.0" y="2617.1">0</text>
<path d="M987.2,2627.0v6.5M1024.1,2627.0v3.5M1061.0,2627.0v6.5M1097.9,2627.0v3.5M1134.7,2627.0v6.5M1171.6,2627.0v3.5M1208.5,2627.0v6.5M1245.4,2627.0v3.5M1282.2,2627.0v6.5M1319.1,2627.0v3.5M1356.0,2627.0v6.5M1392.9,2627.0v3.5M1429.7,2627.0v6.5M1466.6,2627.0v3.5M1503.5,2627.0v6.5M947.0,2171.9h-6.5M947.0,2279.5h-6.5M947.0,2387.1h-6.5M947.0,2494.7h-6.5M947.0,2602.3h-6.5M947.0,2225.7h-3.5M947.0,2333.3h-3.5M947.0,2440.9h-3.5M947.0,2548.5h-3.5" stroke="#000" stroke-width="3.6" fill="none"/>
<text class="al" text-anchor="middle" x="1244.4" y="2723.0">Time (days)</text>
<text class="al" text-anchor="middle" transform="translate(856.0,2387.3) rotate(-90)">Content (mg/g)</text>
<path d="M993.2,2397.4L1017.8,2349.6M1031.8,2348.3L1052.9,2375.5M1071.0,2377.6L1124.4,2334.6M1147.0,2330.4L1269.5,2369.1M1294.4,2369.2L1343.1,2354.6M1361.5,2362.4L1423.9,2483.8M1442.8,2496.1L1490.5,2498.6" fill="none" stroke="#0000ff" stroke-width="3.8" stroke-dasharray="13,9"/>
<polygon points="987.2,2419.5 998.7,2400.0 975.7,2400.0" fill="#fff" stroke="#5a5aff" stroke-width="1.4"/><polygon points="987.2,2420.0 994.7,2407.0 979.7,2407.0" fill="#0000ff"/>
<polygon points="1023.8,2348.6 1035.3,2329.1 1012.3,2329.1" fill="#fff" stroke="#5a5aff" stroke-width="1.4"/><polygon points="1023.8,2349.1 1031.3,2336.1 1016.3,2336.1" fill="#0000ff"/>
<polygon points="1060.9,2396.2 1072.4,2376.7 1049.4,2376.7" fill="#fff" stroke="#5a5aff" stroke-width="1.4"/><polygon points="1060.9,2396.7 1068.4,2383.7 1053.4,2383.7" fill="#0000ff"/>
<polygon points="1134.6,2336.9 1146.1,2317.4 1123.1,2317.4" fill="#fff" stroke="#5a5aff" stroke-width="1.4"/><polygon points="1134.6,2337.4 1142.1,2324.4 1127.1,2324.4" fill="#0000ff"/>
<polygon points="1281.9,2383.5 1293.4,2364.0 1270.4,2364.0" fill="#fff" stroke="#5a5aff" stroke-width="1.4"/><polygon points="1281.9,2384.0 1289.4,2371.0 1274.4,2371.0" fill="#0000ff"/>
<polygon points="1355.6,2361.3 1367.1,2341.8 1344.1,2341.8" fill="#fff" stroke="#5a5aff" stroke-width="1.4"/><polygon points="1355.6,2361.8 1363.1,2348.8 1348.1,2348.8" fill="#0000ff"/>
<polygon points="1429.8,2505.9 1441.3,2486.4 1418.3,2486.4" fill="#fff" stroke="#5a5aff" stroke-width="1.4"/><polygon points="1429.8,2506.4 1437.3,2493.4 1422.3,2493.4" fill="#0000ff"/>
<polygon points="1503.5,2509.8 1515.0,2490.3 1492.0,2490.3" fill="#fff" stroke="#5a5aff" stroke-width="1.4"/><polygon points="1503.5,2510.3 1511.0,2497.3 1496.0,2497.3" fill="#0000ff"/>
<path d="M987.2,2409.0V2401.2M981.2,2401.2h12M1023.8,2338.1V2293.8M1017.8,2293.8h12M1060.9,2385.7V2335.9M1054.9,2335.9h12M1134.6,2326.4V2293.8M1128.6,2293.8h12M1281.9,2373.0V2304.3M1275.9,2304.3h12M1355.6,2350.8V2237.3M1349.6,2237.3h12M1429.8,2495.4V2453.3M1423.8,2453.3h12M1503.5,2499.3V2461.6M1497.5,2461.6h12" stroke="#222" stroke-width="3.2" fill="none"/>
</g>
<g>
<text class="pl" x="1581.0" y="2114.0">A12</text>
<text class="tt" x="1733.4" y="2201.3">CHN</text>
<rect x="1701.2" y="2149.5" width="590.3" height="475.5" fill="none" stroke="#000" stroke-width="4.6"/>
<text class="tk" text-anchor="middle" x="1737.3" y="2677.0">0</text>
<text class="tk" text-anchor="middle" x="1811.1" y="2677.0">4</text>
<text class="tk" text-anchor="middle" x="1884.9" y="2677.0">8</text>
<text class="tk" text-anchor="middle" x="1958.7" y="2677.0">12</text>
<text class="tk" text-anchor="middle" x="2032.6" y="2677.0">16</text>
<text class="tk" text-anchor="middle" x="2106.4" y="2677.0">20</text>
<text class="tk" text-anchor="middle" x="2180.2" y="2677.0">24</text>
<text class="tk" text-anchor="middle" x="2254.1" y="2677.0">28</text>
<text class="tk" text-anchor="end" x="1685.2" y="2203.9">20</text>
<text class="tk" text-anchor="end" x="1685.2" y="2302.6">15</text>
<text class="tk" text-anchor="end" x="1685.2" y="2401.3">10</text>
<text class="tk" text-anchor="end" x="1685.2" y="2500.1">5</text>
<text class="tk" text-anchor="end" x="1685.2" y="2598.8">0</text>
<path d="M1737.3,2627.0v6.5M1774.2,2627.0v3.5M1811.1,2627.0v6.5M1848.0,2627.0v3.5M1884.9,2627.0v6.5M1921.8,2627.0v3.5M1958.7,2627.0v6.5M1995.7,2627.0v3.5M2032.6,2627.0v6.5M2069.5,2627.0v3.5M2106.4,2627.0v6.5M2143.3,2627.0v3.5M2180.2,2627.0v6.5M2217.2,2627.0v3.5M2254.1,2627.0v6.5M1699.2,2189.1h-6.5M1699.2,2287.8h-6.5M1699.2,2386.5h-6.5M1699.2,2485.3h-6.5M1699.2,2584.0h-6.5M1699.2,2238.4h-3.5M1699.2,2337.2h-3.5M1699.2,2435.9h-3.5M1699.2,2534.6h-3.5" stroke="#000" stroke-width="3.6" fill="none"/>
<text class="al" text-anchor="middle" x="1996.3" y="2723.0">Time (days)</text>
<text class="al" text-anchor="middle" transform="translate(1608.2,2387.3) rotate(-90)">Content (mg/g)</text>
<path d="M1746.0,2514.1L1765.6,2492.8M1786.5,2487.9L1799.4,2492.9M1822.6,2490.9L1874.0,2460.0M1896.7,2447.3L2021.0,2382.8M2040.7,2386.9L2098.5,2458.2M2117.7,2475.2L2169.4,2508.3M2192.1,2521.0L2242.4,2545.1" fill="none" stroke="#0000ff" stroke-width="3.8" stroke-dasharray="13,9"/>
<circle cx="1737.3" cy="2523.6" r="9.5" fill="#fff" stroke="#5a5aff" stroke-width="1.4"/><path d="M1727.3,2523.6 a10,10 0 0 0 20,0 z" fill="#0000ff"/>
<circle cx="1774.4" cy="2483.2" r="9.5" fill="#fff" stroke="#5a5aff" stroke-width="1.4"/><path d="M1764.4,2483.2 a10,10 0 0 0 20,0 z" fill="#0000ff"/>
<circle cx="1811.5" cy="2497.6" r="9.5" fill="#fff" stroke="#5a5aff" stroke-width="1.4"/><path d="M1801.5,2497.6 a10,10 0 0 0 20,0 z" fill="#0000ff"/>
<circle cx="1885.2" cy="2453.3" r="9.5" fill="#fff" stroke="#5a5aff" stroke-width="1.4"/><path d="M1875.2,2453.3 a10,10 0 0 0 20,0 z" fill="#0000ff"/>
<circle cx="2032.5" cy="2376.8" r="9.5" fill="#fff" stroke="#5a5aff" stroke-width="1.4"/><path d="M2022.5,2376.8 a10,10 0 0 0 20,0 z" fill="#0000ff"/>
<circle cx="2106.7" cy="2468.2" r="9.5" fill="#fff" stroke="#5a5aff" stroke-width="1.4"/><path d="M2096.7,2468.2 a10,10 0 0 0 20,0 z" fill="#0000ff"/>
<circle cx="2180.4" cy="2515.3" r="9.5" fill="#fff" stroke="#5a5aff" stroke-width="1.4"/><path d="M2170.4,2515.3 a10,10 0 0 0 20,0 z" fill="#0000ff"/>
<circle cx="2254.1" cy="2550.8" r="9.5" fill="#fff" stroke="#5a5aff" stroke-width="1.4"/><path d="M2244.1,2550.8 a10,10 0 0 0 20,0 z" fill="#0000ff"/>
<path d="M1737.3,2523.6V2493.2M1731.3,2493.2h12M1774.4,2483.2V2424.5M1768.4,2424.5h12M1811.5,2497.6V2485.4M1805.5,2485.4h12M1885.2,2453.3V2357.5M1879.2,2357.5h12M2032.5,2376.8V2284.3M2026.5,2284.3h12M2106.7,2468.2V2410.6M2100.7,2410.6h12M2180.4,2515.3V2456.6M2174.4,2456.6h12M2254.1,2550.8V2503.1M2248.1,2503.1h12" stroke="#222" stroke-width="3.2" fill="none"/>
</g>
<rect x="50" y="2760" width="2263" height="1617.5" fill="#adc8e8"/>
<text class="bigb" x="20" y="2847">B</text>
<path d="M218,3062.4H66.8V4261.8H2051.9V4210" fill="none" stroke="#ea0008" stroke-width="5.0"/>
<polygon points="2051.9,4193.7 2042.9,4211.7 2060.9,4211.7" fill="#ea0008"/>
<path d="M1503.2,4261.8V4212" fill="none" stroke="#ea0008" stroke-width="5.0"/>
<polygon points="1503.2,4197.6 1494.2,4215.6 1512.2,4215.6" fill="#ea0008"/>
<path d="M638,3033.5H654" fill="none" stroke="#ff3de0" stroke-width="4.4"/>
<path d="M658.3,3032.5H696" fill="none" stroke="#ea0008" stroke-width="6.0"/>
<polygon points="713.7,3032.5 693.7,3022.0 693.7,3043.0" fill="#ea0008"/>
<path d="M392.5,3387V3418.7M317.6,3436V3418.7H712.3V3866" fill="none" stroke="#ea0008" stroke-width="5.0"/>
<polygon points="317.6,3451.0 309.1,3434.0 326.1,3434.0" fill="#ea0008"/>
<polygon points="712.3,3881.0 703.3,3864.0 721.3,3864.0" fill="#ea0008"/>
<path d="M335.4,3835.3V4231.7H2029.4V4216" fill="none" stroke="#ea0008" stroke-width="4.4" stroke-dasharray="17.5,12"/>
<polygon points="2029.4,4202.0 2020.9,4218.0 2037.9,4218.0" fill="#ea0008"/>
<path d="M1473.5,4231.7V4214" fill="none" stroke="#ea0008" stroke-width="4.4"/>
<polygon points="1473.5,4197.6 1465.0,4213.6 1482.0,4213.6" fill="#ea0008"/>
<polygon points="1219.4,3033.9 1236.4,3025.5 1236.4,3042.3" fill="#ff3de0"/>
<path d="M1236,3033.9H1252M1264.5,3033.9H1282" fill="none" stroke="#ff3de0" stroke-width="4.4"/>
<path d="M1484.6,3388.5V3436" fill="none" stroke="#ff3de0" stroke-width="5.0"/>
<polygon points="1484.6,3451.4 1476.2,3434.4 1493.0,3434.4" fill="#ff3de0"/>
<path d="M1483.9,3835.3V3851M1483.9,3865V3882" fill="none" stroke="#ff3de0" stroke-width="4.6"/>
<polygon points="1483.9,3897.0 1475.5,3881.0 1492.3,3881.0" fill="#ff3de0"/>
<path d="M935,3387.4V4004.9M847,4004.9H1378" fill="none" stroke="#ffc000" stroke-width="4.3"/>
<polygon points="830.5,4004.9 848.5,3996.4 848.5,4013.4" fill="#ffc000"/>
<polygon points="1394.8,4004.9 1376.8,3996.4 1376.8,4013.4" fill="#ffc000"/>
<path d="M1283.5,3054.8H1218.2V4030M837,4030H1369" fill="none" stroke="#ff3de0" stroke-width="4.3"/>
<polygon points="820.5,4030.0 838.5,4021.5 838.5,4038.5" fill="#ff3de0"/>
<polygon points="1385.2,4030.0 1367.2,4021.5 1367.2,4038.5" fill="#ff3de0"/>
<path d="M2218.8,3061H2297.6V4258.5H2073V4216" fill="none" stroke="#46b43c" stroke-width="4.5"/>
<polygon points="2073.0,4201.0 2064.5,4218.0 2081.5,4218.0" fill="#46b43c"/>
<path d="M2049.5,3855V3873M2049.5,3884V3900" fill="none" stroke="#46b43c" stroke-width="4.5"/>
<polygon points="2049.5,3839.0 2041.0,3856.0 2058.0,3856.0" fill="#46b43c"/>
<g><path d="M370.0,3045.8L380.2,3047.2M415.9,3051.0L434.9,3046.4M385.7,3065.5L385.7,3045.8M434.9,3046.4L434.9,3016.9M354.2,3075.3L354.2,3094.6M417.9,3076.6L417.9,3094.6M354.0,3120.1L355.0,3140.9M417.0,3120.1L411.0,3174.4M355.0,3140.9L324.8,3155.3M354.6,3141.9L372.7,3152.6M357.4,3137.2L375.5,3148.0M324.8,3155.3L298.0,3140.9M298.0,3140.9L269.5,3155.3M269.5,3155.3L252.8,3146.3M266.8,3155.3L266.8,3178.8M272.2,3155.3L272.2,3178.8M324.8,3155.3L324.8,3191.2M324.8,3191.2L298.0,3206.6M298.0,3206.6L298.0,3239.1M296.6,3236.8L275.5,3249.6M299.4,3241.5L278.3,3254.2M298.0,3239.1L315.8,3250.9M334.2,3250.9L355.0,3239.1M324.8,3191.2L355.0,3206.6M355.0,3206.6L383.5,3190.5M383.5,3190.5L413.0,3206.6M385.0,3199.7L404.5,3210.3M413.0,3206.6L413.0,3239.1M413.0,3239.1L383.5,3255.9M404.4,3235.6L384.9,3246.7M383.5,3255.9L355.0,3239.1M355.0,3239.1L355.0,3206.6M362.3,3233.6L362.3,3212.1M383.5,3190.5L411.0,3174.4M409.7,3176.8L429.1,3187.8M412.3,3172.1L431.8,3183.2M413.0,3239.1L432.1,3250.9M383.5,3255.9L383.5,3276.0" fill="none" stroke="#111" stroke-width="3.2" stroke-linecap="round"/>
<path d="M354.9,3073.3L385.7,3065.5M385.7,3065.5L418.5,3074.6" fill="none" stroke="#111" stroke-width="4.4" stroke-linecap="round"/>
<polygon points="369.1,3045.3 352.7,3072.1 357.1,3074.5 370.9,3046.3" fill="#111"/>
<polygon points="434.0,3045.9 416.3,3073.3 420.6,3075.8 435.8,3046.9" fill="#111"/>
<polygon points="325.8,3155.3 328.1,3135.2 321.5,3135.2 323.8,3155.3" fill="#111"/>
<polygon points="297.8,3205.6 276.2,3208.1 277.6,3214.5 298.2,3207.6" fill="#111"/>
<circle cx="331.7" cy="3186.5" r="1.4" fill="#111"/>
<circle cx="336.6" cy="3183.8" r="1.7" fill="#111"/>
<circle cx="341.5" cy="3181.1" r="2.0" fill="#111"/>
<text class="at" text-anchor="middle" x="402.1" y="3060.9">O</text>
<text class="at" text-anchor="middle" x="434.9" y="3011.7">O</text>
<text class="at" text-anchor="middle" x="354.2" y="3115.6">O</text>
<text class="at" text-anchor="middle" x="417.2" y="3115.6">O</text>
<text class="at" text-anchor="middle" x="381.8" y="3164.9">O</text>
<text class="at" text-anchor="middle" x="324.8" y="3132.1">H</text>
<text class="at" text-anchor="middle" x="232.0" y="3148.8">HO</text>
<text class="at" text-anchor="middle" x="267.8" y="3197.8">O</text>
<text class="at" text-anchor="middle" x="352.7" y="3181.7">H</text>
<text class="at" text-anchor="middle" x="256.8" y="3222.6">HO</text>
<text class="at" text-anchor="middle" x="267.8" y="3264.8">O</text>
<text class="at" text-anchor="middle" x="324.8" y="3264.8">O</text>
<text class="at" text-anchor="middle" x="438.8" y="3197.8">O</text>
<text class="at" text-anchor="middle" x="447.2" y="3263.8">OH</text>
<text class="at" text-anchor="middle" x="390.2" y="3296.3">OH</text>
<path d="M443.2,3007.8L465.0,3007.8M467.3,3009.1L479.7,2988.0M462.7,3006.4L475.1,2985.3M465.0,3007.8L483.4,3037.3M483.4,3037.3L515.3,3037.3M515.3,3037.3L531.4,3064.1M511.8,3045.6L522.4,3063.3M531.4,3064.1L515.3,3091.6M515.3,3091.6L483.4,3091.6M509.9,3084.3L488.8,3084.3M483.4,3091.6L467.3,3064.1M467.3,3064.1L483.4,3037.3M476.3,3063.3L487.0,3045.6M531.4,3064.1L552.2,3064.1M515.3,3091.6L527.0,3110.0M483.4,3091.6L472.4,3110.0M314.1,2880.4L346.6,2880.4M346.6,2880.4L362.7,2908.8M343.0,2888.8L353.6,2907.6M362.7,2908.8L346.6,2937.3M346.6,2937.3L314.1,2937.3M341.1,2930.0L319.6,2930.0M314.1,2937.3L298.0,2908.8M298.0,2908.8L314.1,2880.4M307.1,2907.6L317.7,2888.8M411.3,2880.4L444.9,2880.4M417.0,2887.7L439.2,2887.7M444.9,2880.4L461.0,2908.8M461.0,2908.8L444.9,2937.3M451.9,2910.1L441.2,2928.9M444.9,2937.3L411.3,2937.3M411.3,2937.3L394.6,2908.8M414.8,2928.8L403.7,2910.0M394.6,2908.8L411.3,2880.4M362.7,2908.8L394.6,2908.8M314.1,2880.4L304.1,2863.6M346.6,2880.4L346.6,2861.9M298.0,2908.8L277.2,2908.8M411.3,2880.4L411.3,2861.9M444.9,2880.4L454.9,2863.6M461.0,2908.8L481.8,2908.8M346.6,2937.3L332.6,2964.2M330.2,2962.1L309.1,2962.1M330.2,2967.5L309.1,2967.5M332.6,2964.2L340.3,2982.6M345.0,3005.4L345.0,3022.8M345.0,3022.8L370.1,3045.6M411.3,2937.3L426.4,2964.2M428.8,2967.5L449.9,2967.5M428.8,2962.1L449.9,2962.1M426.4,2964.2L390.6,3024.5M384.2,3045.3L385.5,3065.4" fill="none" stroke="#111" stroke-width="3.2" stroke-linecap="round"/>
<text class="at" text-anchor="middle" x="481.8" y="2987.2">O</text>
<text class="at" text-anchor="middle" x="570.6" y="3072.0">OH</text>
<text class="at" text-anchor="middle" x="538.1" y="3128.0">OH</text>
<text class="at" text-anchor="middle" x="456.6" y="3128.0">HO</text>
<text class="at" text-anchor="middle" x="289.0" y="2861.4">HO</text>
<text class="at" text-anchor="middle" x="353.3" y="2856.4">OH</text>
<text class="at" text-anchor="middle" x="255.4" y="2917.8">HO</text>
<text class="at" text-anchor="middle" x="419.1" y="2856.4">OH</text>
<text class="at" text-anchor="middle" x="468.3" y="2860.8">OH</text>
<text class="at" text-anchor="middle" x="498.5" y="2917.8">OH</text>
<text class="at" text-anchor="middle" x="296.7" y="2973.8">O</text>
<text class="at" text-anchor="middle" x="345.0" y="3002.3">O</text>
<text class="at" text-anchor="middle" x="460.0" y="2973.1">O</text>
<text class="at" text-anchor="middle" x="383.8" y="3042.5">O</text></g>
<g><path d="M904.3,3030.2L914.5,3031.6M950.2,3035.4L969.2,3030.8M920.0,3049.9L920.0,3030.2M969.2,3030.8L969.2,3001.3M888.5,3059.7L888.5,3079.0M952.2,3061.0L952.2,3079.0M888.3,3104.5L889.3,3125.3M951.3,3104.5L945.3,3158.8M889.3,3125.3L859.1,3139.7M888.9,3126.3L907.0,3137.0M891.7,3121.6L909.8,3132.4M859.1,3139.7L832.3,3125.3M832.3,3125.3L803.8,3139.7M803.8,3139.7L787.1,3130.7M801.1,3139.7L801.1,3163.2M806.5,3139.7L806.5,3163.2M859.1,3139.7L859.1,3175.6M859.1,3175.6L832.3,3191.0M832.3,3191.0L832.3,3223.5M830.9,3221.2L809.8,3234.0M833.7,3225.9L812.6,3238.6M832.3,3223.5L850.1,3235.3M868.5,3235.3L889.3,3223.5M859.1,3175.6L889.3,3191.0M889.3,3191.0L917.8,3174.9M917.8,3174.9L947.3,3191.0M919.3,3184.1L938.8,3194.7M947.3,3191.0L947.3,3223.5M947.3,3223.5L917.8,3240.3M938.7,3220.0L919.2,3231.1M917.8,3240.3L889.3,3223.5M889.3,3223.5L889.3,3191.0M896.6,3218.0L896.6,3196.5M917.8,3174.9L945.3,3158.8M944.0,3161.2L963.4,3172.2M946.6,3156.5L966.1,3167.6M947.3,3223.5L966.4,3235.3M917.8,3240.3L917.8,3260.4M904.3,3030.2L882.0,3006.6M882.0,3006.6L882.0,2986.5M978.2,2983.8L996.6,2972.1M999.3,2972.1L999.3,2950.3M993.9,2972.1L993.9,2950.3M996.6,2972.1L1025.8,2988.8M1025.8,2988.8L1054.6,2972.1M1054.6,2972.1L1083.1,2988.8M1055.8,2981.2L1074.6,2992.3M1083.1,2988.8L1083.1,3021.4M1083.1,3021.4L1054.6,3037.5M1074.7,3017.7L1055.9,3028.4M1054.6,3037.5L1025.8,3021.4M1025.8,3021.4L1025.8,2988.8M1033.1,3015.8L1033.1,2994.4M1083.1,2988.8L1102.2,2977.8M1083.1,3021.4L1102.2,3032.4M1054.6,3037.5L1054.6,3059.3" fill="none" stroke="#111" stroke-width="3.2" stroke-linecap="round"/>
<path d="M889.2,3057.7L920.0,3049.9M920.0,3049.9L952.8,3059.0" fill="none" stroke="#111" stroke-width="4.4" stroke-linecap="round"/>
<polygon points="903.4,3029.7 887.0,3056.5 891.4,3058.9 905.2,3030.7" fill="#111"/>
<polygon points="968.3,3030.3 950.6,3057.7 954.9,3060.2 970.1,3031.3" fill="#111"/>
<polygon points="860.1,3139.7 862.4,3119.6 855.8,3119.6 858.1,3139.7" fill="#111"/>
<polygon points="832.1,3190.0 810.5,3192.5 811.9,3198.9 832.5,3192.0" fill="#111"/>
<circle cx="866.0" cy="3170.9" r="1.4" fill="#111"/>
<circle cx="870.9" cy="3168.2" r="1.7" fill="#111"/>
<circle cx="875.8" cy="3165.5" r="2.0" fill="#111"/>
<text class="at" text-anchor="middle" x="936.4" y="3045.3">O</text>
<text class="at" text-anchor="middle" x="969.2" y="2996.1">O</text>
<text class="at" text-anchor="middle" x="888.5" y="3100.0">O</text>
<text class="at" text-anchor="middle" x="951.5" y="3100.0">O</text>
<text class="at" text-anchor="middle" x="916.1" y="3149.3">O</text>
<text class="at" text-anchor="middle" x="859.1" y="3116.5">H</text>
<text class="at" text-anchor="middle" x="766.3" y="3133.2">HO</text>
<text class="at" text-anchor="middle" x="802.1" y="3182.2">O</text>
<text class="at" text-anchor="middle" x="887.0" y="3166.1">H</text>
<text class="at" text-anchor="middle" x="791.1" y="3207.0">HO</text>
<text class="at" text-anchor="middle" x="802.1" y="3249.2">O</text>
<text class="at" text-anchor="middle" x="859.1" y="3249.2">O</text>
<text class="at" text-anchor="middle" x="973.1" y="3182.2">O</text>
<text class="at" text-anchor="middle" x="981.5" y="3248.2">OH</text>
<text class="at" text-anchor="middle" x="924.5" y="3280.7">OH</text>
<text class="at" text-anchor="middle" x="889.3" y="2981.0">OH</text>
<text class="at" text-anchor="middle" x="927.2" y="3022.9">OH</text>
<text class="at" text-anchor="middle" x="997.6" y="2945.5">O</text>
<text class="at" text-anchor="middle" x="1119.7" y="2980.0">OH</text>
<text class="at" text-anchor="middle" x="1119.7" y="3045.4">OH</text>
<text class="at" text-anchor="middle" x="1062.0" y="3078.9">OH</text></g>
<g><path d="M1480.9,3031.7L1491.1,3033.1M1526.8,3036.9L1545.8,3032.3M1496.6,3051.4L1496.6,3031.7M1545.8,3032.3L1545.8,3002.8M1465.1,3061.2L1465.1,3080.5M1528.8,3062.5L1528.8,3080.5M1464.9,3106.0L1465.9,3126.8M1527.9,3106.0L1521.9,3160.3M1465.9,3126.8L1435.7,3141.2M1465.5,3127.8L1483.6,3138.5M1468.3,3123.1L1486.4,3133.9M1435.7,3141.2L1408.9,3126.8M1408.9,3126.8L1380.4,3141.2M1380.4,3141.2L1363.7,3132.2M1377.7,3141.2L1377.7,3164.7M1383.1,3141.2L1383.1,3164.7M1435.7,3141.2L1435.7,3177.1M1435.7,3177.1L1408.9,3192.5M1408.9,3192.5L1408.9,3225.0M1407.5,3222.7L1386.4,3235.5M1410.3,3227.4L1389.2,3240.1M1408.9,3225.0L1426.7,3236.8M1445.1,3236.8L1465.9,3225.0M1435.7,3177.1L1465.9,3192.5M1465.9,3192.5L1494.4,3176.4M1494.4,3176.4L1523.9,3192.5M1495.9,3185.6L1515.4,3196.2M1523.9,3192.5L1523.9,3225.0M1523.9,3225.0L1494.4,3241.8M1515.3,3221.5L1495.8,3232.6M1494.4,3241.8L1465.9,3225.0M1465.9,3225.0L1465.9,3192.5M1473.2,3219.5L1473.2,3198.0M1494.4,3176.4L1521.9,3160.3M1520.6,3162.7L1540.0,3173.7M1523.2,3158.0L1542.7,3169.1M1523.9,3225.0L1543.0,3236.8M1494.4,3241.8L1494.4,3261.9" fill="none" stroke="#111" stroke-width="3.2" stroke-linecap="round"/>
<path d="M1465.8,3059.2L1496.6,3051.4M1496.6,3051.4L1529.4,3060.5" fill="none" stroke="#111" stroke-width="4.4" stroke-linecap="round"/>
<polygon points="1480.0,3031.2 1463.6,3058.0 1468.0,3060.4 1481.8,3032.2" fill="#111"/>
<polygon points="1544.9,3031.8 1527.2,3059.2 1531.5,3061.7 1546.7,3032.8" fill="#111"/>
<polygon points="1436.7,3141.2 1439.0,3121.1 1432.4,3121.1 1434.7,3141.2" fill="#111"/>
<polygon points="1408.7,3191.5 1387.1,3194.0 1388.5,3200.4 1409.1,3193.5" fill="#111"/>
<circle cx="1442.6" cy="3172.4" r="1.4" fill="#111"/>
<circle cx="1447.5" cy="3169.7" r="1.7" fill="#111"/>
<circle cx="1452.4" cy="3167.0" r="2.0" fill="#111"/>
<text class="at" text-anchor="middle" x="1513.0" y="3046.8">O</text>
<text class="at" text-anchor="middle" x="1545.8" y="2997.6">O</text>
<text class="at" text-anchor="middle" x="1465.1" y="3101.5">O</text>
<text class="at" text-anchor="middle" x="1528.1" y="3101.5">O</text>
<text class="at" text-anchor="middle" x="1492.7" y="3150.8">O</text>
<text class="at" text-anchor="middle" x="1435.7" y="3118.0">H</text>
<text class="at" text-anchor="middle" x="1342.9" y="3134.7">HO</text>
<text class="at" text-anchor="middle" x="1378.7" y="3183.7">O</text>
<text class="at" text-anchor="middle" x="1463.6" y="3167.6">H</text>
<text class="at" text-anchor="middle" x="1367.7" y="3208.5">HO</text>
<text class="at" text-anchor="middle" x="1378.7" y="3250.7">O</text>
<text class="at" text-anchor="middle" x="1435.7" y="3250.7">O</text>
<text class="at" text-anchor="middle" x="1549.7" y="3183.7">O</text>
<text class="at" text-anchor="middle" x="1558.1" y="3249.7">OH</text>
<text class="at" text-anchor="middle" x="1501.1" y="3282.2">OH</text>
<path d="M1554.1,2993.7L1575.9,2993.7M1578.3,2995.0L1590.7,2973.9M1573.6,2992.3L1586.0,2971.2M1575.9,2993.7L1594.4,3023.2M1594.4,3023.2L1626.2,3023.2M1626.2,3023.2L1642.3,3050.0M1622.7,3031.5L1633.3,3049.2M1642.3,3050.0L1626.2,3077.5M1626.2,3077.5L1594.4,3077.5M1620.8,3070.2L1599.8,3070.2M1594.4,3077.5L1578.3,3050.0M1578.3,3050.0L1594.4,3023.2M1587.3,3049.2L1597.9,3031.5M1642.3,3050.0L1663.1,3050.0M1626.2,3077.5L1638.0,3095.9M1594.4,3077.5L1583.3,3095.9" fill="none" stroke="#111" stroke-width="3.2" stroke-linecap="round"/>
<text class="at" text-anchor="middle" x="1592.7" y="2973.1">O</text>
<text class="at" text-anchor="middle" x="1681.5" y="3057.9">OH</text>
<text class="at" text-anchor="middle" x="1649.0" y="3113.9">OH</text>
<text class="at" text-anchor="middle" x="1567.6" y="3113.9">HO</text>
<path d="M1496.1,3051.3L1496.1,3032.9M1496.1,3009.4L1496.1,2947.4M1497.5,2945.1L1477.4,2933.3M1494.8,2949.7L1474.7,2938.0M1496.1,2947.4L1523.0,2931.3M1523.0,2898.8L1551.5,2882.0M1531.5,2902.2L1550.3,2891.2M1551.5,2882.0L1580.0,2898.8M1580.0,2898.8L1580.0,2931.3M1572.7,2904.3L1572.7,2925.8M1580.0,2931.3L1551.5,2947.4M1551.5,2947.4L1523.0,2931.3M1550.2,2938.3L1531.4,2927.7M1523.0,2931.3L1523.0,2898.8M1551.5,2882.0L1551.5,2861.9M1580.0,2898.8L1598.4,2887.1M1580.0,2931.3L1598.4,2942.4M1481.1,3031.9L1457.6,3011.1M1457.6,3011.1L1457.6,2991.0M1449.2,2974.2L1429.1,2962.5M1427.7,2960.2L1407.6,2971.9M1430.4,2964.8L1410.3,2976.6M1429.1,2962.5L1429.1,2930.6M1429.1,2865.3L1457.6,2882.0M1430.2,2874.4L1449.0,2885.5M1457.6,2882.0L1457.6,2914.5M1457.6,2914.5L1429.1,2930.6M1449.1,2910.9L1430.3,2921.5M1429.1,2930.6L1400.6,2914.5M1400.6,2914.5L1400.6,2882.0M1407.9,2909.0L1407.9,2887.6M1400.6,2882.0L1429.1,2865.3M1429.1,2865.3L1429.1,2845.1M1457.6,2882.0L1476.0,2870.3M1400.6,2882.0L1382.1,2870.3" fill="none" stroke="#111" stroke-width="3.2" stroke-linecap="round"/>
<text class="at" text-anchor="middle" x="1494.5" y="3029.1">O</text>
<text class="at" text-anchor="middle" x="1467.6" y="2938.6">O</text>
<text class="at" text-anchor="middle" x="1557.5" y="2856.4">OH</text>
<text class="at" text-anchor="middle" x="1613.5" y="2888.3">OH</text>
<text class="at" text-anchor="middle" x="1615.2" y="2952.6">OH</text>
<text class="at" text-anchor="middle" x="1457.6" y="2987.2">O</text>
<text class="at" text-anchor="middle" x="1400.6" y="2986.2">O</text>
<text class="at" text-anchor="middle" x="1437.5" y="2841.3">OH</text>
<text class="at" text-anchor="middle" x="1493.8" y="2873.2">OH</text>
<text class="at" text-anchor="middle" x="1365.4" y="2873.2">HO</text></g>
<g><path d="M1943.7,2900.0L1973.4,2915.7M1945.3,2909.1L1964.9,2919.5M1973.4,2915.7L1973.4,2949.0M1973.4,2949.0L1943.7,2966.4M1964.7,2945.6L1945.0,2957.2M1943.7,2966.4L1913.9,2949.0M1913.9,2949.0L1913.9,2915.7M1921.2,2943.3L1921.2,2921.4M1913.9,2915.7L1943.7,2900.0M1943.7,2900.0L1943.7,2879.0M1913.9,2915.7L1894.7,2905.2M1913.9,2949.0L1894.7,2938.5M1973.4,2915.7L2003.2,2900.0M2005.9,2900.0L2005.9,2879.0M2000.5,2900.0L2000.5,2879.0M2003.2,2900.0L2076.6,2986.7M1943.7,2966.4L1943.7,3001.4M1943.7,3001.4L1973.4,3018.9M1945.0,3010.7L1964.7,3022.2M1973.4,3018.9L1973.4,3052.2M1973.4,3052.2L1943.7,3069.7M1964.7,3048.8L1945.0,3060.4M1943.7,3069.7L1913.9,3052.2M1913.9,3052.2L1913.9,3018.9M1913.9,3018.9L1943.7,3001.4M1905.5,3023.1L1905.5,3048.0M1973.4,3018.9L1992.7,3008.4M1973.4,3052.2L1992.7,3041.7M1943.7,3069.7L1943.7,3092.4M1913.9,3018.9L1884.2,3001.4M1886.9,3001.4L1886.9,2980.4M1881.5,3001.4L1881.5,2980.4M1884.2,3001.4L1863.2,3013.7M1854.5,3032.2L1854.5,3052.2M1854.5,3052.2L1884.2,3069.7M1855.8,3061.4L1875.4,3073.0M1884.2,3069.7L1884.2,3104.6M1884.2,3104.6L1854.5,3122.1M1875.4,3101.3L1855.8,3112.9M1854.5,3122.1L1824.7,3104.6M1824.7,3104.6L1824.7,3069.7M1832.0,3098.7L1832.0,3075.6M1824.7,3069.7L1854.5,3052.2M1824.7,3069.7L1805.5,3059.2M1824.7,3104.6L1805.5,3115.1M1854.5,3122.1L1854.5,3157.1M1884.2,3069.7L1913.9,3052.2M1884.2,3104.6L1913.9,3122.1M1911.2,3122.1L1911.2,3143.1M1916.6,3122.1L1916.6,3143.1M1913.9,3122.1L1934.9,3109.9M1854.5,3157.1L1884.2,3174.6M1855.8,3166.4L1875.4,3177.9M1884.2,3174.6L1884.2,3207.8M1884.2,3207.8L1854.5,3225.3M1875.4,3204.5L1855.8,3216.1M1854.5,3225.3L1824.7,3207.8M1824.7,3207.8L1824.7,3174.6M1832.0,3202.2L1832.0,3180.3M1824.7,3174.6L1854.5,3157.1M1824.7,3174.6L1805.5,3164.1M1824.7,3207.8L1805.5,3218.3M1854.5,3225.3L1854.5,3246.3M1884.2,3174.6L1913.9,3190.4M1911.2,3190.4L1911.2,3211.3M1916.6,3190.4L1916.6,3211.3M1913.9,3190.4L2012.6,3075.6M2080.1,3008.4L2069.6,3036.4M2069.6,3036.4L2085.4,3062.7M2031.1,3064.4L2057.4,3059.2M2057.4,3059.2L2085.4,3062.7M2085.4,3062.7L2110.9,3057.4M2127.4,3063.0L2139.6,3087.1M2050.4,3082.6L2071.4,3087.1M2109.9,3078.4L2116.9,3097.6M2139.6,3087.1L2144.8,3082.6M2144.8,3082.6L2149.0,3085.4M2149.0,3085.4L2156.0,3077.0M2039.9,3091.7L2032.9,3146.6M2032.9,3143.9L2010.1,3143.9M2032.9,3149.3L2010.1,3149.3M2032.9,3146.6L2050.4,3178.1M2123.9,3120.4L2134.3,3139.6M2134.3,3142.3L2156.0,3142.3M2134.3,3136.9L2156.0,3136.9M2134.3,3139.6L2118.6,3178.1M2017.1,3178.1L2050.4,3178.1M2050.4,3178.1L2067.9,3207.1M2047.1,3186.8L2058.6,3206.0M2067.9,3207.1L2050.4,3235.8M2050.4,3235.8L2017.1,3235.8M2044.7,3228.5L2022.8,3228.5M2017.1,3235.8L1999.7,3207.1M1999.7,3207.1L2017.1,3178.1M2008.9,3206.0L2020.4,3186.8M1999.7,3207.1L1976.9,3207.1M2017.1,3235.8L2004.9,3255.1M2050.4,3235.8L2050.4,3255.1M2067.9,3207.1L2101.1,3207.1M2118.6,3178.1L2151.8,3178.1M2124.3,3185.4L2146.2,3185.4M2151.8,3178.1L2168.6,3207.1M2168.6,3207.1L2151.8,3235.8M2159.5,3208.3L2148.4,3227.3M2151.8,3235.8L2118.6,3235.8M2118.6,3235.8L2101.1,3207.1M2121.9,3227.2L2110.3,3208.2M2101.1,3207.1L2118.6,3178.1M2168.6,3207.1L2192.1,3207.1M2151.8,3235.8L2164.1,3255.1M2118.6,3235.8L2118.6,3255.1" fill="none" stroke="#111" stroke-width="3.2" stroke-linecap="round"/>
<path d="M2139.6,3087.1L2109.9,3078.4M2109.9,3078.4L2071.4,3087.1" fill="none" stroke="#111" stroke-width="4.4" stroke-linecap="round"/>
<polygon points="2056.5,3059.6 2068.7,3088.5 2074.1,3085.8 2058.3,3058.7" fill="#111"/>
<text class="at" text-anchor="middle" x="1951.7" y="2872.9">OH</text>
<text class="at" text-anchor="middle" x="1875.5" y="2907.2">HO</text>
<text class="at" text-anchor="middle" x="1875.5" y="2941.1">HO</text>
<text class="at" text-anchor="middle" x="2003.2" y="2872.9">O</text>
<text class="at" text-anchor="middle" x="2082.6" y="3005.2">O</text>
<text class="at" text-anchor="middle" x="2010.1" y="3009.4">OH</text>
<text class="at" text-anchor="middle" x="2010.1" y="3043.6">OH</text>
<text class="at" text-anchor="middle" x="1943.7" y="3112.6">O</text>
<text class="at" text-anchor="middle" x="1884.2" y="2975.1">O</text>
<text class="at" text-anchor="middle" x="1854.5" y="3028.6">O</text>
<text class="at" text-anchor="middle" x="1786.2" y="3061.8">HO</text>
<text class="at" text-anchor="middle" x="1786.2" y="3129.0">HO</text>
<text class="at" text-anchor="middle" x="1913.9" y="3164.0">O</text>
<text class="at" text-anchor="middle" x="1786.2" y="3165.0">HO</text>
<text class="at" text-anchor="middle" x="1786.2" y="3232.6">HO</text>
<text class="at" text-anchor="middle" x="1862.2" y="3266.5">OH</text>
<text class="at" text-anchor="middle" x="1913.9" y="3232.6">O</text>
<text class="at" text-anchor="middle" x="2019.6" y="3075.1">O</text>
<text class="at" text-anchor="middle" x="2120.4" y="3062.9">O</text>
<text class="at" text-anchor="middle" x="2039.9" y="3087.0">O</text>
<text class="at" text-anchor="middle" x="2120.4" y="3117.1">O</text>
<text class="at" text-anchor="middle" x="2176.3" y="3076.2">OH</text>
<text class="at" text-anchor="middle" x="1996.2" y="3155.6">O</text>
<text class="at" text-anchor="middle" x="2168.6" y="3148.6">O</text>
<text class="at" text-anchor="middle" x="1955.9" y="3215.1">HO</text>
<text class="at" text-anchor="middle" x="1989.2" y="3273.5">HO</text>
<text class="at" text-anchor="middle" x="2057.4" y="3277.0">OH</text>
<text class="at" text-anchor="middle" x="2211.3" y="3215.1">OH</text>
<text class="at" text-anchor="middle" x="2178.1" y="3273.5">OH</text>
<text class="at" text-anchor="middle" x="2125.6" y="3277.0">OH</text></g>
<g><path d="M277.1,3685.5L287.3,3686.9M323.0,3690.7L342.0,3686.1M292.8,3705.2L292.8,3685.5M342.0,3686.1L342.0,3662.3M261.3,3715.0L261.3,3736.3M325.0,3716.3L325.0,3736.3" fill="none" stroke="#111" stroke-width="3.2" stroke-linecap="round"/>
<path d="M262.0,3713.0L292.8,3705.2M292.8,3705.2L325.6,3714.3" fill="none" stroke="#111" stroke-width="4.4" stroke-linecap="round"/>
<polygon points="276.2,3685.0 259.8,3711.8 264.2,3714.2 278.0,3686.0" fill="#111"/>
<polygon points="341.2,3685.6 323.4,3713.0 327.8,3715.5 342.9,3686.6" fill="#111"/>
<text class="at" text-anchor="middle" x="309.2" y="3700.6">O</text>
<text class="at" text-anchor="middle" x="342.0" y="3657.1">O</text>
<text class="at" text-anchor="middle" x="268.2" y="3757.7">OH</text>
<text class="at" text-anchor="middle" x="332.5" y="3757.7">OH</text>
<path d="M183.9,3520.8L217.4,3515.8M190.7,3527.2L212.8,3523.9M217.4,3515.8L239.2,3544.3M239.2,3544.3L225.8,3576.1M230.2,3546.9L221.3,3567.9M225.8,3576.1L192.3,3581.2M192.3,3581.2L172.1,3552.7M194.8,3572.1L181.5,3553.3M172.1,3552.7L183.9,3520.8M183.9,3520.8L172.1,3505.7M217.4,3515.8L219.1,3495.7M172.1,3552.7L152.0,3557.7M239.2,3544.3L272.7,3538.3M225.8,3576.1L247.6,3603.0M249.4,3604.6L271.2,3603.3M249.1,3599.3L270.9,3597.9M247.6,3603.0L239.2,3629.8M245.9,3644.9L267.0,3652.2M267.0,3652.2L277.1,3683.4M287.8,3505.7L321.3,3500.7M321.3,3500.7L341.5,3527.5M318.9,3509.6L332.2,3527.3M341.5,3527.5L329.7,3557.7M329.7,3557.7L294.5,3564.4M322.4,3551.7L299.1,3556.1M294.5,3564.4L272.7,3538.3M272.7,3538.3L287.8,3505.7M281.9,3535.8L291.9,3514.3M287.8,3505.7L281.1,3485.6M321.3,3500.7L329.7,3482.3M341.5,3527.5L363.3,3524.2M294.5,3564.4L307.9,3614.7M309.6,3617.4L329.7,3617.4M309.6,3612.0L329.7,3612.0M307.9,3614.7L297.9,3658.3M292.2,3681.1L292.8,3686.8M351.5,3644.9L375.0,3636.5M377.7,3636.5L377.7,3611.3M372.3,3636.5L372.3,3611.3M375.0,3636.5L403.5,3649.9M403.5,3649.9L432.0,3633.1M432.0,3633.1L461.5,3649.9M433.4,3642.3L452.9,3653.4M461.5,3649.9L461.5,3685.1M461.5,3685.1L432.0,3701.9M452.9,3681.6L433.4,3692.7M432.0,3701.9L403.5,3685.1M403.5,3685.1L403.5,3649.9M410.8,3679.1L410.8,3655.9M461.5,3649.9L480.6,3639.8M461.5,3685.1L480.6,3695.2M432.0,3701.9L432.0,3725.3" fill="none" stroke="#111" stroke-width="3.2" stroke-linecap="round"/>
<text class="at" text-anchor="middle" x="154.4" y="3504.6">HO</text>
<text class="at" text-anchor="middle" x="225.8" y="3490.2">OH</text>
<text class="at" text-anchor="middle" x="128.6" y="3567.3">HO</text>
<text class="at" text-anchor="middle" x="281.1" y="3609.9">O</text>
<text class="at" text-anchor="middle" x="234.2" y="3647.8">O</text>
<text class="at" text-anchor="middle" x="267.7" y="3480.1">HO</text>
<text class="at" text-anchor="middle" x="339.8" y="3476.8">OH</text>
<text class="at" text-anchor="middle" x="381.7" y="3530.4">OH</text>
<text class="at" text-anchor="middle" x="340.8" y="3623.3">O</text>
<text class="at" text-anchor="middle" x="291.8" y="3677.9">O</text>
<text class="at" text-anchor="middle" x="371.6" y="3605.9">O</text>
<text class="at" text-anchor="middle" x="499.0" y="3640.0">OH</text>
<text class="at" text-anchor="middle" x="499.0" y="3709.1">OH</text>
<text class="at" text-anchor="middle" x="440.4" y="3744.0">OH</text></g>
<g><path d="M1455.2,3673.9L1465.4,3675.3M1501.1,3679.1L1520.1,3674.5M1470.9,3693.6L1470.9,3673.9M1520.1,3674.5L1520.1,3656.0M1439.4,3703.4L1439.4,3724.7M1503.1,3704.7L1503.1,3724.7" fill="none" stroke="#111" stroke-width="3.2" stroke-linecap="round"/>
<path d="M1440.1,3701.4L1470.9,3693.6M1470.9,3693.6L1503.7,3702.7" fill="none" stroke="#111" stroke-width="4.4" stroke-linecap="round"/>
<polygon points="1454.3,3673.4 1437.9,3700.2 1442.3,3702.6 1456.1,3674.4" fill="#111"/>
<polygon points="1519.3,3674.0 1501.5,3701.4 1505.9,3703.9 1521.0,3675.0" fill="#111"/>
<text class="at" text-anchor="middle" x="1487.3" y="3689.0">O</text>
<text class="at" text-anchor="middle" x="1520.1" y="3650.9">O</text>
<text class="at" text-anchor="middle" x="1446.3" y="3746.1">OH</text>
<text class="at" text-anchor="middle" x="1510.6" y="3746.1">OH</text>
<path d="M1317.0,3546.7L1352.0,3543.2M1323.6,3553.4L1346.7,3551.1M1352.0,3543.2L1371.2,3572.9M1371.2,3572.9L1355.5,3602.7M1362.1,3574.6L1351.7,3594.2M1355.5,3602.7L1322.2,3607.2M1322.2,3607.2L1304.7,3578.2M1325.5,3598.5L1314.0,3579.4M1304.7,3578.2L1317.0,3546.7M1317.0,3546.7L1306.5,3532.7M1352.0,3543.2L1359.0,3527.5M1304.7,3578.2L1283.7,3581.7M1355.5,3602.7L1374.7,3628.9M1372.2,3627.9L1363.5,3648.9M1377.2,3630.0L1368.4,3651.0M1374.7,3628.9L1395.7,3627.2M1414.9,3637.7L1428.9,3660.4M1428.9,3660.4L1455.2,3675.1M1505.9,3532.7L1537.4,3541.5M1509.3,3541.2L1530.1,3547.0M1537.4,3541.5L1544.4,3572.9M1544.4,3572.9L1519.9,3595.7M1535.2,3571.5L1519.1,3586.5M1519.9,3595.7L1489.1,3586.9M1489.1,3586.9L1481.4,3553.7M1494.9,3579.6L1489.8,3557.7M1481.4,3553.7L1505.9,3532.7M1505.9,3532.7L1498.9,3513.5M1537.4,3541.5L1551.4,3525.7M1544.4,3572.9L1563.6,3579.9M1489.1,3586.9L1465.7,3607.9M1466.5,3605.4L1445.5,3598.4M1464.8,3610.5L1443.8,3603.5M1465.7,3607.9L1469.2,3630.7M1470.9,3653.4L1470.9,3674.4M1525.1,3637.7L1544.4,3628.9M1547.1,3628.9L1547.1,3607.9M1541.7,3628.9L1541.7,3607.9M1544.4,3628.9L1574.1,3644.7M1574.1,3644.7L1602.1,3627.2M1602.1,3627.2L1631.8,3644.7M1603.5,3636.4L1623.1,3648.0M1631.8,3644.7L1631.8,3676.2M1631.8,3676.2L1602.1,3692.6M1623.3,3672.6L1603.6,3683.4M1602.1,3692.6L1574.1,3676.2M1574.1,3676.2L1574.1,3644.7M1581.4,3670.8L1581.4,3650.0M1631.8,3644.7L1649.3,3634.2M1631.8,3676.2L1649.3,3684.9M1602.1,3692.6L1602.1,3712.9" fill="none" stroke="#111" stroke-width="3.2" stroke-linecap="round"/>
<text class="at" text-anchor="middle" x="1290.7" y="3531.9">HO</text>
<text class="at" text-anchor="middle" x="1371.2" y="3524.2">OH</text>
<text class="at" text-anchor="middle" x="1263.8" y="3591.4">HO</text>
<text class="at" text-anchor="middle" x="1361.8" y="3667.6">O</text>
<text class="at" text-anchor="middle" x="1407.2" y="3634.0">O</text>
<text class="at" text-anchor="middle" x="1489.1" y="3509.1">HO</text>
<text class="at" text-anchor="middle" x="1567.1" y="3526.6">OH</text>
<text class="at" text-anchor="middle" x="1582.9" y="3590.7">OH</text>
<text class="at" text-anchor="middle" x="1433.1" y="3607.1">O</text>
<text class="at" text-anchor="middle" x="1470.9" y="3650.1">O</text>
<text class="at" text-anchor="middle" x="1544.4" y="3601.9">O</text>
<text class="at" text-anchor="middle" x="1666.1" y="3635.1">OH</text>
<text class="at" text-anchor="middle" x="1666.1" y="3699.8">OH</text>
<text class="at" text-anchor="middle" x="1610.2" y="3732.0">OH</text></g>
<g><path d="M1953.3,3616.2L1986.8,3616.2M1986.8,3616.2L2003.4,3645.9M1983.3,3624.8L1994.2,3644.5M2003.4,3645.9L1986.8,3674.5M1986.8,3674.5L1953.3,3674.5M1981.1,3667.2L1959.0,3667.2M1953.3,3674.5L1937.3,3645.9M1937.3,3645.9L1953.3,3616.2M1946.4,3644.4L1957.0,3624.7M1953.3,3616.2L1943.1,3600.2M1937.3,3645.9L1916.9,3645.9M1986.8,3616.2L1995.6,3601.6M2003.4,3645.9L2036.4,3645.9M2011.6,3590.0L2034.9,3590.0M2037.3,3591.3L2048.9,3570.9M2032.6,3588.6L2044.2,3568.2M2034.9,3590.0L2052.4,3616.2M2052.4,3616.2L2085.1,3616.2M2058.0,3623.5L2079.5,3623.5M2085.1,3616.2L2102.0,3645.9M2102.0,3645.9L2085.1,3674.5M2092.8,3647.1L2081.7,3665.9M2085.1,3674.5L2052.4,3674.5M2052.4,3674.5L2036.4,3645.9M2056.1,3666.1L2045.5,3647.2M2036.4,3645.9L2052.4,3616.2M2102.0,3645.9L2122.4,3645.9M2085.1,3674.5L2095.6,3692.0M2052.4,3674.5L2042.2,3692.0" fill="none" stroke="#111" stroke-width="3.2" stroke-linecap="round"/>
<text class="at" text-anchor="middle" x="1927.6" y="3597.9">HO</text>
<text class="at" text-anchor="middle" x="1895.0" y="3654.7">HO</text>
<text class="at" text-anchor="middle" x="2001.4" y="3597.9">O</text>
<text class="at" text-anchor="middle" x="2050.1" y="3567.3">O</text>
<text class="at" text-anchor="middle" x="2141.3" y="3654.7">OH</text>
<text class="at" text-anchor="middle" x="2107.8" y="3711.6">OH</text>
<text class="at" text-anchor="middle" x="2026.8" y="3711.6">HO</text></g>
<g><path d="M2056.4,3977.7L2084.1,3961.6M2064.8,3981.3L2083.0,3970.7M2084.1,3961.6L2111.8,3977.7M2111.8,3977.7L2111.8,4009.7M2104.5,3983.1L2104.5,4004.3M2111.8,4009.7L2084.1,4025.8M2084.1,4025.8L2056.4,4009.7M2083.0,4016.7L2064.8,4006.1M2056.4,4009.7L2056.4,3977.7M2111.8,3977.7L2129.3,3967.5M2111.8,4009.7L2129.3,4019.9M2084.1,4025.8L2084.1,4046.2M2056.4,3977.7L2028.7,3961.6M2031.4,3961.6L2031.4,3942.7M2026.0,3961.6L2026.0,3942.7M2028.7,3961.6L2011.2,3971.8M2001.0,3990.2L2001.0,4009.7M2001.0,4009.7L2028.7,4025.8M2002.0,4018.8L2020.3,4029.4M2028.7,4025.8L2028.7,4057.8M2028.7,4057.8L2001.0,4073.9M2020.3,4054.3L2002.0,4064.8M2001.0,4073.9L1973.3,4057.8M1973.3,4057.8L1973.3,4025.8M1980.6,4052.4L1980.6,4031.2M1973.3,4025.8L2001.0,4009.7M1973.3,4025.8L1955.8,4015.6M1973.3,4057.8L1955.8,4068.0M2028.7,4025.8L2056.4,4009.7M2028.7,4057.8L2056.4,4073.9M2053.7,4073.9L2053.7,4094.3M2059.1,4073.9L2059.1,4094.3M2056.4,4073.9L2073.9,4063.7" fill="none" stroke="#111" stroke-width="3.2" stroke-linecap="round"/>
<text class="at" text-anchor="middle" x="2146.8" y="3971.0">OH</text>
<text class="at" text-anchor="middle" x="2146.8" y="4033.7">OH</text>
<text class="at" text-anchor="middle" x="2084.1" y="4066.3">O</text>
<text class="at" text-anchor="middle" x="2027.2" y="3939.8">O</text>
<text class="at" text-anchor="middle" x="2000.1" y="3987.0">O</text>
<text class="at" text-anchor="middle" x="1936.9" y="4019.1">HO</text>
<text class="at" text-anchor="middle" x="1936.9" y="4082.7">HO</text>
<text class="at" text-anchor="middle" x="2054.9" y="4114.7">O</text></g>
<g><path d="M662.9,3976.2L692.0,3961.6M692.0,3961.6L694.9,3941.2M691.3,3963.4L711.7,3974.5M693.9,3958.7L714.3,3969.8M662.9,3976.2L633.7,3960.2M633.7,3960.2L604.5,3976.2M604.5,3976.2L585.6,3966.0M601.8,3976.2L601.8,4001.0M607.2,3976.2L607.2,4001.0M662.9,3976.2L662.9,4014.7M662.9,4014.7L632.2,4031.6M632.2,4031.6L632.2,4065.1M630.8,4062.8L610.4,4075.4M633.7,4067.4L613.2,4080.0M632.2,4065.1L651.2,4076.8M673.1,4078.8L694.9,4068.0M662.9,4014.7L694.9,4031.6M694.9,4031.6L725.5,4014.7M725.5,4014.7L755.6,4031.6M727.1,4023.9L746.9,4035.1M755.6,4031.6L755.6,4068.0M755.6,4068.0L725.5,4084.1M747.0,4064.3L727.2,4074.9M725.5,4084.1L694.9,4068.0M694.9,4068.0L694.9,4031.6M702.2,4061.9L702.2,4037.8M725.5,4014.7L755.6,3998.1M755.6,3998.1L759.1,3967.5M754.8,3999.8L774.6,4011.2M757.5,3995.2L777.3,4006.5M755.6,4068.0L775.1,4079.7M725.5,4084.1L725.5,4107.4" fill="none" stroke="#111" stroke-width="3.2" stroke-linecap="round"/>
<polygon points="663.9,3976.2 666.2,3956.4 659.6,3956.4 661.9,3976.2" fill="#111"/>
<polygon points="632.0,4030.6 609.5,4034.2 611.2,4040.6 632.5,4032.6" fill="#111"/>
<circle cx="669.8" cy="4009.7" r="1.4" fill="#111"/>
<circle cx="675.0" cy="4006.8" r="1.7" fill="#111"/>
<circle cx="680.1" cy="4003.9" r="2.0" fill="#111"/>
<text class="at" text-anchor="middle" x="662.9" y="3951.5">H</text>
<text class="at" text-anchor="middle" x="702.2" y="3934.0">OH</text>
<text class="at" text-anchor="middle" x="723.5" y="3986.5">O</text>
<text class="at" text-anchor="middle" x="560.8" y="3969.0">HO</text>
<text class="at" text-anchor="middle" x="600.2" y="4022.6">O</text>
<text class="at" text-anchor="middle" x="692.6" y="4004.5">H</text>
<text class="at" text-anchor="middle" x="588.5" y="4049.7">HO</text>
<text class="at" text-anchor="middle" x="599.3" y="4093.5">O</text>
<text class="at" text-anchor="middle" x="662.3" y="4092.6">O</text>
<text class="at" text-anchor="middle" x="767.8" y="3959.3">OH</text>
<text class="at" text-anchor="middle" x="785.3" y="4022.0">O</text>
<text class="at" text-anchor="middle" x="794.1" y="4093.5">OH</text>
<text class="at" text-anchor="middle" x="732.8" y="4129.9">OH</text></g>
<g><path d="M1482.2,3963.5L1514.3,3981.0M1484.2,3972.9L1505.3,3984.4M1514.3,3981.0L1514.3,4018.9M1514.3,4018.9L1482.2,4036.4M1505.3,4015.5L1484.2,4027.0M1482.2,4036.4L1450.1,4018.9M1450.1,4018.9L1450.1,3981.0M1457.4,4012.4L1457.4,3987.4M1450.1,3981.0L1482.2,3963.5M1482.2,3963.5L1482.2,3941.6M1514.3,3981.0L1531.8,3970.8M1450.1,3981.0L1431.2,3970.8M1482.2,4036.4L1482.2,4072.8M1480.9,4070.5L1460.5,4082.1M1483.6,4075.2L1463.1,4086.8M1482.2,4072.8L1502.6,4084.5" fill="none" stroke="#111" stroke-width="3.2" stroke-linecap="round"/>
<text class="at" text-anchor="middle" x="1489.5" y="3935.0">OH</text>
<text class="at" text-anchor="middle" x="1552.2" y="3972.3">OH</text>
<text class="at" text-anchor="middle" x="1409.3" y="3972.3">HO</text>
<text class="at" text-anchor="middle" x="1449.3" y="4099.7">O</text>
<text class="at" text-anchor="middle" x="1521.6" y="4099.7">OH</text></g>
<text class="cn" text-anchor="middle" x="392.5" y="3351.5">CHG</text>
<text class="cn" text-anchor="middle" x="932.9" y="3354.0">CHI</text>
<text class="cn" text-anchor="middle" x="1497.4" y="3354.0">CHN</text>
<text class="cn" text-anchor="middle" x="2030.0" y="3353.0">PUN</text>
<text class="cn" text-anchor="middle" x="366.6" y="3812.5">COR</text>
<text class="cn" text-anchor="middle" x="1494.5" y="3816.0">TGG</text>
<text class="cn" text-anchor="middle" x="2055.3" y="3814.5">UM5</text>
<text class="cn" text-anchor="middle" x="719.0" y="4180.3">CA</text>
<text class="cn" text-anchor="middle" x="1491.0" y="4188.0">GA</text>
<text class="cn" text-anchor="middle" x="2052.7" y="4180.3">EA</text>
<path d="M343.4,4325.3H473.5" stroke="#000" stroke-width="4"/>
<text class="lg" x="504" y="4344.5">Verified pathway</text>
<path d="M1261.2,4323H1281.6M1300.3,4323H1321.3M1340,4323H1360.3M1379.6,4323H1389.5" stroke="#000" stroke-width="4"/>
<text class="lg" x="1421.6" y="4346.3">Proposed pathway</text>
</svg></body></html>
